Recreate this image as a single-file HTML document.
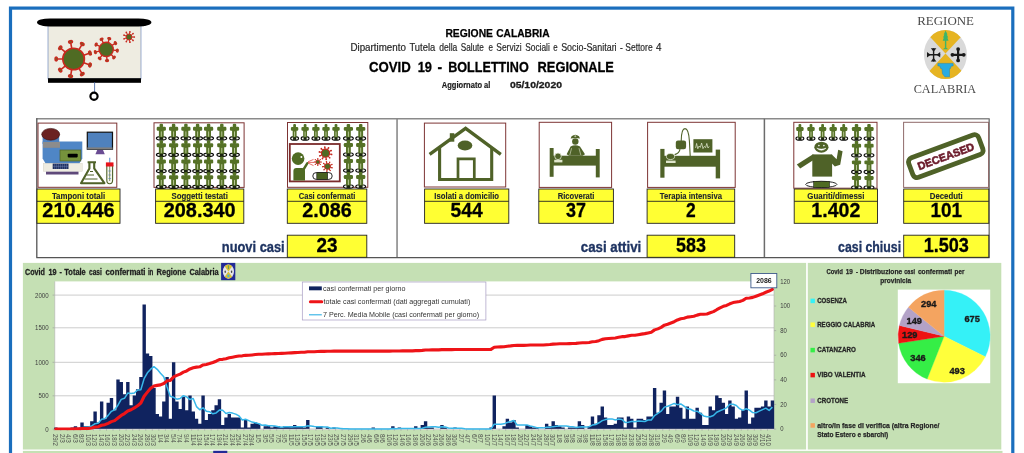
<!DOCTYPE html>
<html lang="it">
<head>
<meta charset="utf-8">
<title>COVID 19 - Bollettino Regionale - Regione Calabria</title>
<style>
html,body{margin:0;padding:0;background:#fff;}
body{width:1024px;height:453px;overflow:hidden;font-family:"Liberation Sans",sans-serif;}
svg{display:block;}
</style>
</head>
<body>
<svg width="1024" height="453" viewBox="0 0 1024 453">
<defs><filter id="soft" x="0" y="0" width="1024" height="453" filterUnits="userSpaceOnUse" color-interpolation-filters="sRGB"><feGaussianBlur stdDeviation="0.45"/></filter></defs>
<g filter="url(#soft)">
<rect x="0" y="0" width="1024" height="453" fill="#fff"/>
<rect x="10.5" y="8.1" width="1002.3" height="500" fill="none" stroke="#1a6ebd" stroke-width="3.2"/>
<g id="projector">
<rect x="48" y="25" width="93" height="54" fill="#eeece1" stroke="#5b7bb5" stroke-width="0.6"/>
<rect x="37" y="18.4" width="114.4" height="8.1" rx="13" ry="4.05" fill="#000"/>
<rect x="48" y="78.2" width="93" height="4.6" fill="#000"/>
<line x1="94.6" y1="82" x2="94.6" y2="92" stroke="#3a5a9a" stroke-width="0.8"/>
<circle cx="94" cy="96.2" r="3.6" fill="#fff" stroke="#000" stroke-width="2.2"/>
<line x1="83.75" y1="62.70" x2="89.95" y2="64.97" stroke="#c9291f" stroke-width="1.6"/>
<ellipse cx="89.95" cy="64.97" rx="2.00" ry="1.24" transform="rotate(110.1 89.95 64.97)" fill="#6b6a25" stroke="#c9291f" stroke-width="1.44"/>
<line x1="78.99" y1="68.36" x2="82.29" y2="74.08" stroke="#c9291f" stroke-width="1.6"/>
<ellipse cx="82.29" cy="74.08" rx="2.00" ry="1.24" transform="rotate(150.1 82.29 74.08)" fill="#6b6a25" stroke="#c9291f" stroke-width="1.44"/>
<line x1="71.71" y1="69.63" x2="70.56" y2="76.13" stroke="#c9291f" stroke-width="1.6"/>
<ellipse cx="70.56" cy="76.13" rx="2.00" ry="1.24" transform="rotate(190.1 70.56 76.13)" fill="#6b6a25" stroke="#c9291f" stroke-width="1.44"/>
<line x1="65.32" y1="65.93" x2="60.26" y2="70.17" stroke="#c9291f" stroke-width="1.6"/>
<ellipse cx="60.26" cy="70.17" rx="2.00" ry="1.24" transform="rotate(230.1 60.26 70.17)" fill="#6b6a25" stroke="#c9291f" stroke-width="1.44"/>
<line x1="62.80" y1="58.99" x2="56.20" y2="58.98" stroke="#c9291f" stroke-width="1.6"/>
<ellipse cx="56.20" cy="58.98" rx="2.00" ry="1.24" transform="rotate(270.1 56.20 58.98)" fill="#6b6a25" stroke="#c9291f" stroke-width="1.44"/>
<line x1="65.33" y1="52.05" x2="60.28" y2="47.80" stroke="#c9291f" stroke-width="1.6"/>
<ellipse cx="60.28" cy="47.80" rx="2.00" ry="1.24" transform="rotate(310.1 60.28 47.80)" fill="#6b6a25" stroke="#c9291f" stroke-width="1.44"/>
<line x1="71.73" y1="48.36" x2="70.59" y2="41.86" stroke="#c9291f" stroke-width="1.6"/>
<ellipse cx="70.59" cy="41.86" rx="2.00" ry="1.24" transform="rotate(350.1 70.59 41.86)" fill="#6b6a25" stroke="#c9291f" stroke-width="1.44"/>
<line x1="79.01" y1="49.65" x2="82.31" y2="43.94" stroke="#c9291f" stroke-width="1.6"/>
<ellipse cx="82.31" cy="43.94" rx="2.00" ry="1.24" transform="rotate(390.1 82.31 43.94)" fill="#6b6a25" stroke="#c9291f" stroke-width="1.44"/>
<line x1="83.75" y1="55.32" x2="89.96" y2="53.06" stroke="#c9291f" stroke-width="1.6"/>
<ellipse cx="89.96" cy="53.06" rx="2.00" ry="1.24" transform="rotate(430.1 89.96 53.06)" fill="#6b6a25" stroke="#c9291f" stroke-width="1.44"/>
<circle cx="73.6" cy="59" r="10.8" fill="#4f6b23" stroke="#c9291f" stroke-width="1.6"/>
<line x1="113.26" y1="50.11" x2="117.34" y2="50.52" stroke="#c9291f" stroke-width="1.4"/>
<ellipse cx="117.34" cy="50.52" rx="1.50" ry="0.93" transform="rotate(95.7 117.34 50.52)" fill="#6b6a25" stroke="#c9291f" stroke-width="1.26"/>
<line x1="111.16" y1="54.48" x2="114.02" y2="57.42" stroke="#c9291f" stroke-width="1.4"/>
<ellipse cx="114.02" cy="57.42" rx="1.50" ry="0.93" transform="rotate(135.7 114.02 57.42)" fill="#6b6a25" stroke="#c9291f" stroke-width="1.26"/>
<line x1="106.73" y1="56.48" x2="107.03" y2="60.57" stroke="#c9291f" stroke-width="1.4"/>
<ellipse cx="107.03" cy="60.57" rx="1.50" ry="0.93" transform="rotate(175.7 107.03 60.57)" fill="#6b6a25" stroke="#c9291f" stroke-width="1.26"/>
<line x1="102.05" y1="55.16" x2="99.66" y2="58.49" stroke="#c9291f" stroke-width="1.4"/>
<ellipse cx="99.66" cy="58.49" rx="1.50" ry="0.93" transform="rotate(215.7 99.66 58.49)" fill="#6b6a25" stroke="#c9291f" stroke-width="1.26"/>
<line x1="99.32" y1="51.15" x2="95.35" y2="52.16" stroke="#c9291f" stroke-width="1.4"/>
<ellipse cx="95.35" cy="52.16" rx="1.50" ry="0.93" transform="rotate(255.7 95.35 52.16)" fill="#6b6a25" stroke="#c9291f" stroke-width="1.26"/>
<line x1="99.80" y1="46.32" x2="96.11" y2="44.54" stroke="#c9291f" stroke-width="1.4"/>
<ellipse cx="96.11" cy="44.54" rx="1.50" ry="0.93" transform="rotate(295.7 96.11 44.54)" fill="#6b6a25" stroke="#c9291f" stroke-width="1.26"/>
<line x1="103.28" y1="42.93" x2="101.60" y2="39.19" stroke="#c9291f" stroke-width="1.4"/>
<ellipse cx="101.60" cy="39.19" rx="1.50" ry="0.93" transform="rotate(335.7 101.60 39.19)" fill="#6b6a25" stroke="#c9291f" stroke-width="1.26"/>
<line x1="108.12" y1="42.57" x2="109.24" y2="38.62" stroke="#c9291f" stroke-width="1.4"/>
<ellipse cx="109.24" cy="38.62" rx="1.50" ry="0.93" transform="rotate(375.7 109.24 38.62)" fill="#6b6a25" stroke="#c9291f" stroke-width="1.26"/>
<line x1="112.07" y1="45.40" x2="115.46" y2="43.09" stroke="#c9291f" stroke-width="1.4"/>
<ellipse cx="115.46" cy="43.09" rx="1.50" ry="0.93" transform="rotate(415.7 115.46 43.09)" fill="#6b6a25" stroke="#c9291f" stroke-width="1.26"/>
<circle cx="106.2" cy="49.4" r="7.1" fill="#4f6b23" stroke="#c9291f" stroke-width="1.4"/>
<line x1="132.00" y1="37.00" x2="134.30" y2="37.00" stroke="#c9291f" stroke-width="1.0"/>
<circle cx="134.30" cy="37.00" r="0.85" fill="#c9291f"/>
<line x1="131.30" y1="38.93" x2="133.06" y2="40.41" stroke="#c9291f" stroke-width="1.0"/>
<circle cx="133.06" cy="40.41" r="0.85" fill="#c9291f"/>
<line x1="129.52" y1="39.95" x2="129.92" y2="42.22" stroke="#c9291f" stroke-width="1.0"/>
<circle cx="129.92" cy="42.22" r="0.85" fill="#c9291f"/>
<line x1="127.50" y1="39.60" x2="126.35" y2="41.59" stroke="#c9291f" stroke-width="1.0"/>
<circle cx="126.35" cy="41.59" r="0.85" fill="#c9291f"/>
<line x1="126.18" y1="38.03" x2="124.02" y2="38.81" stroke="#c9291f" stroke-width="1.0"/>
<circle cx="124.02" cy="38.81" r="0.85" fill="#c9291f"/>
<line x1="126.18" y1="35.97" x2="124.02" y2="35.19" stroke="#c9291f" stroke-width="1.0"/>
<circle cx="124.02" cy="35.19" r="0.85" fill="#c9291f"/>
<line x1="127.50" y1="34.40" x2="126.35" y2="32.41" stroke="#c9291f" stroke-width="1.0"/>
<circle cx="126.35" cy="32.41" r="0.85" fill="#c9291f"/>
<line x1="129.52" y1="34.05" x2="129.92" y2="31.78" stroke="#c9291f" stroke-width="1.0"/>
<circle cx="129.92" cy="31.78" r="0.85" fill="#c9291f"/>
<line x1="131.30" y1="35.07" x2="133.06" y2="33.59" stroke="#c9291f" stroke-width="1.0"/>
<circle cx="133.06" cy="33.59" r="0.85" fill="#c9291f"/>
<circle cx="129" cy="37" r="3.0" fill="#4f6b23" stroke="#c9291f" stroke-width="1.0"/>
</g>
<text y="37.00" font-family="'Liberation Sans', sans-serif" font-size="11.5" font-weight="bold" fill="#000" stroke="#000" stroke-width="0.25" stroke-linejoin="round"><tspan x="445.40" textLength="47.60" lengthAdjust="spacingAndGlyphs">REGIONE</tspan> <tspan x="496.20" textLength="53.40" lengthAdjust="spacingAndGlyphs">CALABRIA</tspan></text>
<text y="50.60" font-family="'Liberation Sans', sans-serif" font-size="10.3" fill="#262626" stroke="#262626" stroke-width="0.18" stroke-linejoin="round"><tspan x="350.40" textLength="55.50" lengthAdjust="spacingAndGlyphs">Dipartimento</tspan> <tspan x="409.50" textLength="25.70" lengthAdjust="spacingAndGlyphs">Tutela</tspan> <tspan x="439.30" textLength="18.00" lengthAdjust="spacingAndGlyphs">della</tspan> <tspan x="460.70" textLength="23.20" lengthAdjust="spacingAndGlyphs">Salute</tspan> <tspan x="488.40" textLength="4.50" lengthAdjust="spacingAndGlyphs">e</tspan> <tspan x="496.30" textLength="25.30" lengthAdjust="spacingAndGlyphs">Servizi</tspan> <tspan x="525.20" textLength="24.60" lengthAdjust="spacingAndGlyphs">Sociali</tspan> <tspan x="553.30" textLength="4.40" lengthAdjust="spacingAndGlyphs">e</tspan> <tspan x="561.20" textLength="55.40" lengthAdjust="spacingAndGlyphs">Socio-Sanitari</tspan> <tspan x="620.10" textLength="2.80" lengthAdjust="spacingAndGlyphs">-</tspan> <tspan x="625.30" textLength="27.30" lengthAdjust="spacingAndGlyphs">Settore</tspan> <tspan x="656.10" textLength="5.50" lengthAdjust="spacingAndGlyphs">4</tspan></text>
<text y="71.70" font-family="'Liberation Sans', sans-serif" font-size="14.8" font-weight="bold" fill="#000" stroke="#000" stroke-width="0.3" stroke-linejoin="round"><tspan x="368.90" textLength="41.80" lengthAdjust="spacingAndGlyphs">COVID</tspan> <tspan x="417.70" textLength="14.30" lengthAdjust="spacingAndGlyphs">19</tspan> <tspan x="437.60" textLength="4.60" lengthAdjust="spacingAndGlyphs">-</tspan> <tspan x="448.20" textLength="80.50" lengthAdjust="spacingAndGlyphs">BOLLETTINO</tspan> <tspan x="537.60" textLength="76.30" lengthAdjust="spacingAndGlyphs">REGIONALE</tspan></text>
<text x="441.80" y="87.80" font-family="'Liberation Sans', sans-serif" font-size="8.5" font-weight="bold" textLength="48.60" lengthAdjust="spacingAndGlyphs" fill="#1c1c1c" stroke="#1c1c1c" stroke-width="0.2" stroke-linejoin="round">Aggiornato al</text>
<text x="509.90" y="87.50" font-family="'Liberation Sans', sans-serif" font-size="9.3" font-weight="bold" textLength="52.10" lengthAdjust="spacingAndGlyphs" fill="#1c1c1c" stroke="#1c1c1c" stroke-width="0.3" stroke-linejoin="round">05/10/2020</text>
<text x="917.20" y="25.40" font-family="'Liberation Serif', serif" font-size="13.0" textLength="56.80" lengthAdjust="spacingAndGlyphs" fill="#4a4a4a">REGIONE</text>
<text x="913.70" y="93.10" font-family="'Liberation Serif', serif" font-size="13.0" textLength="62.50" lengthAdjust="spacingAndGlyphs" fill="#4a4a4a">CALABRIA</text>
<g id="logo">
<clipPath id="logoclip"><ellipse cx="945.4" cy="54.5" rx="21.5" ry="24.5"/></clipPath>
<g clip-path="url(#logoclip)">
<rect x="920" y="28" width="50" height="54" fill="#d9d9d9"/>
<polygon points="945.5,53.6 919,25 972,25" fill="#e6b422"/>
<polygon points="945.5,53.6 919,82.2 972,82.2" fill="#e6b422"/>
</g>
<path d="M945.6,30.4 l1.9,4 l-0.7,0 l1.4,3 l-0.9,0 l1.2,3.4 l-2.2,0 l0,7 l2,1.4 l-5.4,0 l2,-1.4 l0,-7 l-2.2,0 l1.2,-3.4 l-0.9,0 l1.4,-3 l-0.7,0 z" fill="#3db56a"/>
<path d="M937.9,63.4 h15.2 v2.6 h-1.8 l-0.9,2.6 h-0.9 v8.2 h-4.6 l-2.4,-3 l-0.6,-5.2 h-1.2 l-0.9,-2.6 h-1.9 z" fill="#29abe2" stroke="#1c86b8" stroke-width="0.5"/>
<path d="M927.0,54.8 h13.2 M933.6,48.199999999999996 v13.2" stroke="#1a1a1a" stroke-width="1.4" fill="none"/>
<polygon points="930.63,54.80 927.00,52.03 927.00,57.57" fill="#1a1a1a"/>
<polygon points="936.57,54.80 940.20,57.57 940.20,52.03" fill="#1a1a1a"/>
<polygon points="933.60,51.83 936.37,48.20 930.83,48.20" fill="#1a1a1a"/>
<polygon points="933.60,57.77 930.83,61.40 936.37,61.40" fill="#1a1a1a"/>
<path d="M951.5,54.8 h13.2 M958.1,48.199999999999996 v13.2" stroke="#1a1a1a" stroke-width="2.2" fill="none"/>
<circle cx="952.42" cy="54.80" r="1.87" fill="#1a1a1a"/>
<circle cx="963.78" cy="54.80" r="1.87" fill="#1a1a1a"/>
<circle cx="958.10" cy="49.12" r="1.87" fill="#1a1a1a"/>
<circle cx="958.10" cy="60.48" r="1.87" fill="#1a1a1a"/>
</g>
<g id="stats">
<path d="M36.2,118.8 H989.6" fill="none" stroke="#8a8a8a" stroke-width="1.5"/>
<line x1="397.05" y1="118.8" x2="397.05" y2="257.6" stroke="#8a8a8a" stroke-width="1.6"/>
<line x1="764.4" y1="118.8" x2="764.4" y2="257.6" stroke="#6c6c6c" stroke-width="1.5"/>
<line x1="989.2" y1="118.8" x2="989.2" y2="257.6" stroke="#808080" stroke-width="1.5"/>
<path d="M36.8,118.2 V257.65 H989.6" fill="none" stroke="#555" stroke-width="1.3" stroke-linejoin="round"/>
<rect x="38.00" y="123.10" width="78.80" height="64.20" fill="#fff" stroke="#7d3434" stroke-width="1"/>
<g id="lab">
<rect x="42.6" y="134" width="16.6" height="10" fill="#4f81bd"/>
<path d="M42.6,141.6 H82.3 V158.5 L79.3,163.4 H45.6 L42.6,158.5 Z" fill="#4f86c6"/>
<ellipse cx="50.7" cy="134.3" rx="9" ry="5.9" fill="#6b2222" stroke="#3a1010" stroke-width="0.6"/>
<rect x="43" y="142" width="17" height="5.8" fill="#8c8c8c"/>
<rect x="60" y="150" width="20.8" height="11" fill="#76923c" stroke="#4f6228" stroke-width="0.7"/>
<rect x="67.7" y="153.7" width="10" height="3.7" rx="0.8" fill="#000"/>
<rect x="43.2" y="163.4" width="39" height="7.8" fill="#eeece1" stroke="#cfcdbf" stroke-width="0.4"/>
<rect x="52.7" y="163.6" width="15.8" height="5.4" fill="#1f2f5e"/>
<line x1="54.68" y1="163.6" x2="54.68" y2="169" stroke="#8aa0d0" stroke-width="0.35"/>
<line x1="56.66" y1="163.6" x2="56.66" y2="169" stroke="#8aa0d0" stroke-width="0.35"/>
<line x1="58.64" y1="163.6" x2="58.64" y2="169" stroke="#8aa0d0" stroke-width="0.35"/>
<line x1="60.62" y1="163.6" x2="60.62" y2="169" stroke="#8aa0d0" stroke-width="0.35"/>
<line x1="62.60" y1="163.6" x2="62.60" y2="169" stroke="#8aa0d0" stroke-width="0.35"/>
<line x1="64.58" y1="163.6" x2="64.58" y2="169" stroke="#8aa0d0" stroke-width="0.35"/>
<line x1="66.56" y1="163.6" x2="66.56" y2="169" stroke="#8aa0d0" stroke-width="0.35"/>
<line x1="52.7" y1="166.3" x2="68.5" y2="166.3" stroke="#8aa0d0" stroke-width="0.35"/>
<rect x="46" y="171.7" width="32.5" height="2.8" fill="#5f497a"/>
<rect x="87.3" y="132.2" width="25.2" height="17" fill="#4f81bd" stroke="#111" stroke-width="1.2"/>
<rect x="87.3" y="147.4" width="25.2" height="1.9" fill="#7f7f7f"/>
<polygon points="97.2,150 103,150 104.8,154.2 95.4,154.2" fill="#6a4c93"/>
<path d="M87.6,162.2 H96 M89.4,162.2 V168.4 L81,183.2 H104.4 L94.2,168.4 V162.2" fill="none" stroke="#4f6228" stroke-width="2.1" stroke-linejoin="round"/>
<path d="M86.5,175 H94 M84.5,179 H97.5 M90,171.5 h3" fill="none" stroke="#4f6228" stroke-width="1"/>
<line x1="109.7" y1="157.8" x2="109.7" y2="163" stroke="#6f9fd8" stroke-width="1.2"/>
<path d="M106.8,165 V180 a2.9,3.8 0 0 0 5.8,0 V165" fill="#f7f7f0" stroke="#4f6228" stroke-width="1.1"/>
<line x1="109.7" y1="166" x2="109.7" y2="181" stroke="#4f6228" stroke-width="0.7"/>
<path d="M108.3,171 h2.8 M108.3,175 h2.8 M108.3,178.5 h2.8" stroke="#4f81bd" stroke-width="0.6"/>
<rect x="105.9" y="162.4" width="7.6" height="4.1" fill="#e8141c"/>
</g>
<rect x="37.00" y="189.00" width="83.00" height="34.30" fill="#ffff33" stroke="#222" stroke-width="0.9"/>
<line x1="37.00" y1="201.3" x2="120.00" y2="201.3" stroke="#222" stroke-width="0.9"/>
<text x="51.90" y="198.70" font-family="'Liberation Sans', sans-serif" font-size="9.3" font-weight="bold" textLength="53.20" lengthAdjust="spacingAndGlyphs" fill="#20262c" stroke="#20262c" stroke-width="0.12" stroke-linejoin="round">Tamponi totali</text>
<text x="42.35" y="217.20" font-family="'Liberation Sans', sans-serif" font-size="20.6" font-weight="bold" textLength="72.30" lengthAdjust="spacingAndGlyphs" fill="#000" stroke="#000" stroke-width="0.3" stroke-linejoin="round">210.446</text>
<rect x="154.00" y="122.80" width="90.10" height="64.60" fill="#fff" stroke="#7d3434" stroke-width="1"/>
<ellipse cx="161.30" cy="138.30" rx="4.90" ry="1.75" fill="#f4f5ee" stroke="#0a0a0a" stroke-width="1.15"/>
<rect x="159.40" y="136.70" width="3.80" height="3.1" fill="#1c2610"/>
<rect x="159.55" y="123.80" width="3.50" height="3.6" rx="1.1" fill="#557126"/>
<rect x="156.70" y="126.80" width="9.20" height="3.9" rx="1.2" fill="#557126"/>
<rect x="158.90" y="129.80" width="4.80" height="7.4" fill="#557126"/>
<line x1="161.30" y1="131.40" x2="161.30" y2="136.70" stroke="#c3d1a2" stroke-width="0.9"/>
<ellipse cx="173.60" cy="138.30" rx="4.90" ry="1.75" fill="#f4f5ee" stroke="#0a0a0a" stroke-width="1.15"/>
<rect x="171.70" y="136.70" width="3.80" height="3.1" fill="#1c2610"/>
<rect x="171.85" y="123.80" width="3.50" height="3.6" rx="1.1" fill="#557126"/>
<rect x="169.00" y="126.80" width="9.20" height="3.9" rx="1.2" fill="#557126"/>
<rect x="171.20" y="129.80" width="4.80" height="7.4" fill="#557126"/>
<line x1="173.60" y1="131.40" x2="173.60" y2="136.70" stroke="#c3d1a2" stroke-width="0.9"/>
<ellipse cx="185.90" cy="138.30" rx="4.90" ry="1.75" fill="#f4f5ee" stroke="#0a0a0a" stroke-width="1.15"/>
<rect x="184.00" y="136.70" width="3.80" height="3.1" fill="#1c2610"/>
<rect x="184.15" y="123.80" width="3.50" height="3.6" rx="1.1" fill="#557126"/>
<rect x="181.30" y="126.80" width="9.20" height="3.9" rx="1.2" fill="#557126"/>
<rect x="183.50" y="129.80" width="4.80" height="7.4" fill="#557126"/>
<line x1="185.90" y1="131.40" x2="185.90" y2="136.70" stroke="#c3d1a2" stroke-width="0.9"/>
<ellipse cx="197.60" cy="138.30" rx="4.90" ry="1.75" fill="#f4f5ee" stroke="#0a0a0a" stroke-width="1.15"/>
<rect x="195.70" y="136.70" width="3.80" height="3.1" fill="#1c2610"/>
<rect x="195.85" y="123.80" width="3.50" height="3.6" rx="1.1" fill="#557126"/>
<rect x="193.00" y="126.80" width="9.20" height="3.9" rx="1.2" fill="#557126"/>
<rect x="195.20" y="129.80" width="4.80" height="7.4" fill="#557126"/>
<line x1="197.60" y1="131.40" x2="197.60" y2="136.70" stroke="#c3d1a2" stroke-width="0.9"/>
<ellipse cx="208.60" cy="138.30" rx="4.90" ry="1.75" fill="#f4f5ee" stroke="#0a0a0a" stroke-width="1.15"/>
<rect x="206.70" y="136.70" width="3.80" height="3.1" fill="#1c2610"/>
<rect x="206.85" y="123.80" width="3.50" height="3.6" rx="1.1" fill="#557126"/>
<rect x="204.00" y="126.80" width="9.20" height="3.9" rx="1.2" fill="#557126"/>
<rect x="206.20" y="129.80" width="4.80" height="7.4" fill="#557126"/>
<line x1="208.60" y1="131.40" x2="208.60" y2="136.70" stroke="#c3d1a2" stroke-width="0.9"/>
<ellipse cx="221.80" cy="138.30" rx="4.90" ry="1.75" fill="#f4f5ee" stroke="#0a0a0a" stroke-width="1.15"/>
<rect x="219.90" y="136.70" width="3.80" height="3.1" fill="#1c2610"/>
<rect x="220.05" y="123.80" width="3.50" height="3.6" rx="1.1" fill="#557126"/>
<rect x="217.20" y="126.80" width="9.20" height="3.9" rx="1.2" fill="#557126"/>
<rect x="219.40" y="129.80" width="4.80" height="7.4" fill="#557126"/>
<line x1="221.80" y1="131.40" x2="221.80" y2="136.70" stroke="#c3d1a2" stroke-width="0.9"/>
<ellipse cx="234.50" cy="138.30" rx="4.90" ry="1.75" fill="#f4f5ee" stroke="#0a0a0a" stroke-width="1.15"/>
<rect x="232.60" y="136.70" width="3.80" height="3.1" fill="#1c2610"/>
<rect x="232.75" y="123.80" width="3.50" height="3.6" rx="1.1" fill="#557126"/>
<rect x="229.90" y="126.80" width="9.20" height="3.9" rx="1.2" fill="#557126"/>
<rect x="232.10" y="129.80" width="4.80" height="7.4" fill="#557126"/>
<line x1="234.50" y1="131.40" x2="234.50" y2="136.70" stroke="#c3d1a2" stroke-width="0.9"/>
<ellipse cx="161.30" cy="154.80" rx="4.90" ry="1.75" fill="#f4f5ee" stroke="#0a0a0a" stroke-width="1.15"/>
<rect x="159.40" y="153.20" width="3.80" height="3.1" fill="#1c2610"/>
<rect x="159.55" y="140.30" width="3.50" height="3.6" rx="1.1" fill="#557126"/>
<rect x="156.70" y="143.30" width="9.20" height="3.9" rx="1.2" fill="#557126"/>
<rect x="158.90" y="146.30" width="4.80" height="7.4" fill="#557126"/>
<line x1="161.30" y1="147.90" x2="161.30" y2="153.20" stroke="#c3d1a2" stroke-width="0.9"/>
<ellipse cx="173.60" cy="154.80" rx="4.90" ry="1.75" fill="#f4f5ee" stroke="#0a0a0a" stroke-width="1.15"/>
<rect x="171.70" y="153.20" width="3.80" height="3.1" fill="#1c2610"/>
<rect x="171.85" y="140.30" width="3.50" height="3.6" rx="1.1" fill="#557126"/>
<rect x="169.00" y="143.30" width="9.20" height="3.9" rx="1.2" fill="#557126"/>
<rect x="171.20" y="146.30" width="4.80" height="7.4" fill="#557126"/>
<line x1="173.60" y1="147.90" x2="173.60" y2="153.20" stroke="#c3d1a2" stroke-width="0.9"/>
<ellipse cx="185.90" cy="154.80" rx="4.90" ry="1.75" fill="#f4f5ee" stroke="#0a0a0a" stroke-width="1.15"/>
<rect x="184.00" y="153.20" width="3.80" height="3.1" fill="#1c2610"/>
<rect x="184.15" y="140.30" width="3.50" height="3.6" rx="1.1" fill="#557126"/>
<rect x="181.30" y="143.30" width="9.20" height="3.9" rx="1.2" fill="#557126"/>
<rect x="183.50" y="146.30" width="4.80" height="7.4" fill="#557126"/>
<line x1="185.90" y1="147.90" x2="185.90" y2="153.20" stroke="#c3d1a2" stroke-width="0.9"/>
<ellipse cx="197.60" cy="154.80" rx="4.90" ry="1.75" fill="#f4f5ee" stroke="#0a0a0a" stroke-width="1.15"/>
<rect x="195.70" y="153.20" width="3.80" height="3.1" fill="#1c2610"/>
<rect x="195.85" y="140.30" width="3.50" height="3.6" rx="1.1" fill="#557126"/>
<rect x="193.00" y="143.30" width="9.20" height="3.9" rx="1.2" fill="#557126"/>
<rect x="195.20" y="146.30" width="4.80" height="7.4" fill="#557126"/>
<line x1="197.60" y1="147.90" x2="197.60" y2="153.20" stroke="#c3d1a2" stroke-width="0.9"/>
<ellipse cx="208.60" cy="154.80" rx="4.90" ry="1.75" fill="#f4f5ee" stroke="#0a0a0a" stroke-width="1.15"/>
<rect x="206.70" y="153.20" width="3.80" height="3.1" fill="#1c2610"/>
<rect x="206.85" y="140.30" width="3.50" height="3.6" rx="1.1" fill="#557126"/>
<rect x="204.00" y="143.30" width="9.20" height="3.9" rx="1.2" fill="#557126"/>
<rect x="206.20" y="146.30" width="4.80" height="7.4" fill="#557126"/>
<line x1="208.60" y1="147.90" x2="208.60" y2="153.20" stroke="#c3d1a2" stroke-width="0.9"/>
<ellipse cx="221.80" cy="154.80" rx="4.90" ry="1.75" fill="#f4f5ee" stroke="#0a0a0a" stroke-width="1.15"/>
<rect x="219.90" y="153.20" width="3.80" height="3.1" fill="#1c2610"/>
<rect x="220.05" y="140.30" width="3.50" height="3.6" rx="1.1" fill="#557126"/>
<rect x="217.20" y="143.30" width="9.20" height="3.9" rx="1.2" fill="#557126"/>
<rect x="219.40" y="146.30" width="4.80" height="7.4" fill="#557126"/>
<line x1="221.80" y1="147.90" x2="221.80" y2="153.20" stroke="#c3d1a2" stroke-width="0.9"/>
<ellipse cx="234.50" cy="154.80" rx="4.90" ry="1.75" fill="#f4f5ee" stroke="#0a0a0a" stroke-width="1.15"/>
<rect x="232.60" y="153.20" width="3.80" height="3.1" fill="#1c2610"/>
<rect x="232.75" y="140.30" width="3.50" height="3.6" rx="1.1" fill="#557126"/>
<rect x="229.90" y="143.30" width="9.20" height="3.9" rx="1.2" fill="#557126"/>
<rect x="232.10" y="146.30" width="4.80" height="7.4" fill="#557126"/>
<line x1="234.50" y1="147.90" x2="234.50" y2="153.20" stroke="#c3d1a2" stroke-width="0.9"/>
<ellipse cx="161.30" cy="171.10" rx="4.90" ry="1.75" fill="#f4f5ee" stroke="#0a0a0a" stroke-width="1.15"/>
<rect x="159.40" y="169.50" width="3.80" height="3.1" fill="#1c2610"/>
<rect x="159.55" y="156.60" width="3.50" height="3.6" rx="1.1" fill="#557126"/>
<rect x="156.70" y="159.60" width="9.20" height="3.9" rx="1.2" fill="#557126"/>
<rect x="158.90" y="162.60" width="4.80" height="7.4" fill="#557126"/>
<line x1="161.30" y1="164.20" x2="161.30" y2="169.50" stroke="#c3d1a2" stroke-width="0.9"/>
<ellipse cx="173.60" cy="171.10" rx="4.90" ry="1.75" fill="#f4f5ee" stroke="#0a0a0a" stroke-width="1.15"/>
<rect x="171.70" y="169.50" width="3.80" height="3.1" fill="#1c2610"/>
<rect x="171.85" y="156.60" width="3.50" height="3.6" rx="1.1" fill="#557126"/>
<rect x="169.00" y="159.60" width="9.20" height="3.9" rx="1.2" fill="#557126"/>
<rect x="171.20" y="162.60" width="4.80" height="7.4" fill="#557126"/>
<line x1="173.60" y1="164.20" x2="173.60" y2="169.50" stroke="#c3d1a2" stroke-width="0.9"/>
<ellipse cx="185.90" cy="171.10" rx="4.90" ry="1.75" fill="#f4f5ee" stroke="#0a0a0a" stroke-width="1.15"/>
<rect x="184.00" y="169.50" width="3.80" height="3.1" fill="#1c2610"/>
<rect x="184.15" y="156.60" width="3.50" height="3.6" rx="1.1" fill="#557126"/>
<rect x="181.30" y="159.60" width="9.20" height="3.9" rx="1.2" fill="#557126"/>
<rect x="183.50" y="162.60" width="4.80" height="7.4" fill="#557126"/>
<line x1="185.90" y1="164.20" x2="185.90" y2="169.50" stroke="#c3d1a2" stroke-width="0.9"/>
<ellipse cx="197.60" cy="171.10" rx="4.90" ry="1.75" fill="#f4f5ee" stroke="#0a0a0a" stroke-width="1.15"/>
<rect x="195.70" y="169.50" width="3.80" height="3.1" fill="#1c2610"/>
<rect x="195.85" y="156.60" width="3.50" height="3.6" rx="1.1" fill="#557126"/>
<rect x="193.00" y="159.60" width="9.20" height="3.9" rx="1.2" fill="#557126"/>
<rect x="195.20" y="162.60" width="4.80" height="7.4" fill="#557126"/>
<line x1="197.60" y1="164.20" x2="197.60" y2="169.50" stroke="#c3d1a2" stroke-width="0.9"/>
<ellipse cx="208.60" cy="171.10" rx="4.90" ry="1.75" fill="#f4f5ee" stroke="#0a0a0a" stroke-width="1.15"/>
<rect x="206.70" y="169.50" width="3.80" height="3.1" fill="#1c2610"/>
<rect x="206.85" y="156.60" width="3.50" height="3.6" rx="1.1" fill="#557126"/>
<rect x="204.00" y="159.60" width="9.20" height="3.9" rx="1.2" fill="#557126"/>
<rect x="206.20" y="162.60" width="4.80" height="7.4" fill="#557126"/>
<line x1="208.60" y1="164.20" x2="208.60" y2="169.50" stroke="#c3d1a2" stroke-width="0.9"/>
<ellipse cx="221.80" cy="171.10" rx="4.90" ry="1.75" fill="#f4f5ee" stroke="#0a0a0a" stroke-width="1.15"/>
<rect x="219.90" y="169.50" width="3.80" height="3.1" fill="#1c2610"/>
<rect x="220.05" y="156.60" width="3.50" height="3.6" rx="1.1" fill="#557126"/>
<rect x="217.20" y="159.60" width="9.20" height="3.9" rx="1.2" fill="#557126"/>
<rect x="219.40" y="162.60" width="4.80" height="7.4" fill="#557126"/>
<line x1="221.80" y1="164.20" x2="221.80" y2="169.50" stroke="#c3d1a2" stroke-width="0.9"/>
<ellipse cx="234.50" cy="171.10" rx="4.90" ry="1.75" fill="#f4f5ee" stroke="#0a0a0a" stroke-width="1.15"/>
<rect x="232.60" y="169.50" width="3.80" height="3.1" fill="#1c2610"/>
<rect x="232.75" y="156.60" width="3.50" height="3.6" rx="1.1" fill="#557126"/>
<rect x="229.90" y="159.60" width="9.20" height="3.9" rx="1.2" fill="#557126"/>
<rect x="232.10" y="162.60" width="4.80" height="7.4" fill="#557126"/>
<line x1="234.50" y1="164.20" x2="234.50" y2="169.50" stroke="#c3d1a2" stroke-width="0.9"/>
<ellipse cx="161.30" cy="186.80" rx="4.90" ry="1.75" fill="#f4f5ee" stroke="#0a0a0a" stroke-width="1.15"/>
<rect x="159.40" y="185.20" width="3.80" height="3.1" fill="#1c2610"/>
<rect x="159.55" y="172.30" width="3.50" height="3.6" rx="1.1" fill="#557126"/>
<rect x="156.70" y="175.30" width="9.20" height="3.9" rx="1.2" fill="#557126"/>
<rect x="158.90" y="178.30" width="4.80" height="7.4" fill="#557126"/>
<line x1="161.30" y1="179.90" x2="161.30" y2="185.20" stroke="#c3d1a2" stroke-width="0.9"/>
<ellipse cx="173.60" cy="186.80" rx="4.90" ry="1.75" fill="#f4f5ee" stroke="#0a0a0a" stroke-width="1.15"/>
<rect x="171.70" y="185.20" width="3.80" height="3.1" fill="#1c2610"/>
<rect x="171.85" y="172.30" width="3.50" height="3.6" rx="1.1" fill="#557126"/>
<rect x="169.00" y="175.30" width="9.20" height="3.9" rx="1.2" fill="#557126"/>
<rect x="171.20" y="178.30" width="4.80" height="7.4" fill="#557126"/>
<line x1="173.60" y1="179.90" x2="173.60" y2="185.20" stroke="#c3d1a2" stroke-width="0.9"/>
<ellipse cx="185.90" cy="186.80" rx="4.90" ry="1.75" fill="#f4f5ee" stroke="#0a0a0a" stroke-width="1.15"/>
<rect x="184.00" y="185.20" width="3.80" height="3.1" fill="#1c2610"/>
<rect x="184.15" y="172.30" width="3.50" height="3.6" rx="1.1" fill="#557126"/>
<rect x="181.30" y="175.30" width="9.20" height="3.9" rx="1.2" fill="#557126"/>
<rect x="183.50" y="178.30" width="4.80" height="7.4" fill="#557126"/>
<line x1="185.90" y1="179.90" x2="185.90" y2="185.20" stroke="#c3d1a2" stroke-width="0.9"/>
<ellipse cx="197.60" cy="186.80" rx="4.90" ry="1.75" fill="#f4f5ee" stroke="#0a0a0a" stroke-width="1.15"/>
<rect x="195.70" y="185.20" width="3.80" height="3.1" fill="#1c2610"/>
<rect x="195.85" y="172.30" width="3.50" height="3.6" rx="1.1" fill="#557126"/>
<rect x="193.00" y="175.30" width="9.20" height="3.9" rx="1.2" fill="#557126"/>
<rect x="195.20" y="178.30" width="4.80" height="7.4" fill="#557126"/>
<line x1="197.60" y1="179.90" x2="197.60" y2="185.20" stroke="#c3d1a2" stroke-width="0.9"/>
<ellipse cx="208.60" cy="186.80" rx="4.90" ry="1.75" fill="#f4f5ee" stroke="#0a0a0a" stroke-width="1.15"/>
<rect x="206.70" y="185.20" width="3.80" height="3.1" fill="#1c2610"/>
<rect x="206.85" y="172.30" width="3.50" height="3.6" rx="1.1" fill="#557126"/>
<rect x="204.00" y="175.30" width="9.20" height="3.9" rx="1.2" fill="#557126"/>
<rect x="206.20" y="178.30" width="4.80" height="7.4" fill="#557126"/>
<line x1="208.60" y1="179.90" x2="208.60" y2="185.20" stroke="#c3d1a2" stroke-width="0.9"/>
<ellipse cx="221.80" cy="186.80" rx="4.90" ry="1.75" fill="#f4f5ee" stroke="#0a0a0a" stroke-width="1.15"/>
<rect x="219.90" y="185.20" width="3.80" height="3.1" fill="#1c2610"/>
<rect x="220.05" y="172.30" width="3.50" height="3.6" rx="1.1" fill="#557126"/>
<rect x="217.20" y="175.30" width="9.20" height="3.9" rx="1.2" fill="#557126"/>
<rect x="219.40" y="178.30" width="4.80" height="7.4" fill="#557126"/>
<line x1="221.80" y1="179.90" x2="221.80" y2="185.20" stroke="#c3d1a2" stroke-width="0.9"/>
<ellipse cx="234.50" cy="186.80" rx="4.90" ry="1.75" fill="#f4f5ee" stroke="#0a0a0a" stroke-width="1.15"/>
<rect x="232.60" y="185.20" width="3.80" height="3.1" fill="#1c2610"/>
<rect x="232.75" y="172.30" width="3.50" height="3.6" rx="1.1" fill="#557126"/>
<rect x="229.90" y="175.30" width="9.20" height="3.9" rx="1.2" fill="#557126"/>
<rect x="232.10" y="178.30" width="4.80" height="7.4" fill="#557126"/>
<line x1="234.50" y1="179.90" x2="234.50" y2="185.20" stroke="#c3d1a2" stroke-width="0.9"/>
<rect x="155.60" y="189.00" width="88.20" height="34.30" fill="#ffff33" stroke="#222" stroke-width="0.9"/>
<line x1="155.60" y1="201.3" x2="243.80" y2="201.3" stroke="#222" stroke-width="0.9"/>
<text x="171.50" y="198.70" font-family="'Liberation Sans', sans-serif" font-size="9.3" font-weight="bold" textLength="56.40" lengthAdjust="spacingAndGlyphs" fill="#20262c" stroke="#20262c" stroke-width="0.12" stroke-linejoin="round">Soggetti testati</text>
<text x="163.70" y="217.20" font-family="'Liberation Sans', sans-serif" font-size="20.6" font-weight="bold" textLength="72.00" lengthAdjust="spacingAndGlyphs" fill="#000" stroke="#000" stroke-width="0.3" stroke-linejoin="round">208.340</text>
<rect x="287.50" y="122.50" width="80.30" height="64.80" fill="#fff" stroke="#7d3434" stroke-width="1"/>
<ellipse cx="294.60" cy="138.40" rx="3.92" ry="1.75" fill="#f4f5ee" stroke="#0a0a0a" stroke-width="1.15"/>
<rect x="293.08" y="136.80" width="3.04" height="3.1" fill="#1c2610"/>
<rect x="293.20" y="123.90" width="2.80" height="3.6" rx="1.1" fill="#557126"/>
<rect x="290.92" y="126.90" width="7.36" height="3.9" rx="1.2" fill="#557126"/>
<rect x="292.68" y="129.90" width="3.84" height="7.4" fill="#557126"/>
<line x1="294.60" y1="131.50" x2="294.60" y2="136.80" stroke="#c3d1a2" stroke-width="0.9"/>
<ellipse cx="305.10" cy="138.40" rx="3.92" ry="1.75" fill="#f4f5ee" stroke="#0a0a0a" stroke-width="1.15"/>
<rect x="303.58" y="136.80" width="3.04" height="3.1" fill="#1c2610"/>
<rect x="303.70" y="123.90" width="2.80" height="3.6" rx="1.1" fill="#557126"/>
<rect x="301.42" y="126.90" width="7.36" height="3.9" rx="1.2" fill="#557126"/>
<rect x="303.18" y="129.90" width="3.84" height="7.4" fill="#557126"/>
<line x1="305.10" y1="131.50" x2="305.10" y2="136.80" stroke="#c3d1a2" stroke-width="0.9"/>
<ellipse cx="315.90" cy="138.40" rx="3.92" ry="1.75" fill="#f4f5ee" stroke="#0a0a0a" stroke-width="1.15"/>
<rect x="314.38" y="136.80" width="3.04" height="3.1" fill="#1c2610"/>
<rect x="314.50" y="123.90" width="2.80" height="3.6" rx="1.1" fill="#557126"/>
<rect x="312.22" y="126.90" width="7.36" height="3.9" rx="1.2" fill="#557126"/>
<rect x="313.98" y="129.90" width="3.84" height="7.4" fill="#557126"/>
<line x1="315.90" y1="131.50" x2="315.90" y2="136.80" stroke="#c3d1a2" stroke-width="0.9"/>
<ellipse cx="326.00" cy="138.40" rx="3.92" ry="1.75" fill="#f4f5ee" stroke="#0a0a0a" stroke-width="1.15"/>
<rect x="324.48" y="136.80" width="3.04" height="3.1" fill="#1c2610"/>
<rect x="324.60" y="123.90" width="2.80" height="3.6" rx="1.1" fill="#557126"/>
<rect x="322.32" y="126.90" width="7.36" height="3.9" rx="1.2" fill="#557126"/>
<rect x="324.08" y="129.90" width="3.84" height="7.4" fill="#557126"/>
<line x1="326.00" y1="131.50" x2="326.00" y2="136.80" stroke="#c3d1a2" stroke-width="0.9"/>
<ellipse cx="336.00" cy="138.40" rx="3.92" ry="1.75" fill="#f4f5ee" stroke="#0a0a0a" stroke-width="1.15"/>
<rect x="334.48" y="136.80" width="3.04" height="3.1" fill="#1c2610"/>
<rect x="334.60" y="123.90" width="2.80" height="3.6" rx="1.1" fill="#557126"/>
<rect x="332.32" y="126.90" width="7.36" height="3.9" rx="1.2" fill="#557126"/>
<rect x="334.08" y="129.90" width="3.84" height="7.4" fill="#557126"/>
<line x1="336.00" y1="131.50" x2="336.00" y2="136.80" stroke="#c3d1a2" stroke-width="0.9"/>
<ellipse cx="348.40" cy="138.40" rx="4.90" ry="1.75" fill="#f4f5ee" stroke="#0a0a0a" stroke-width="1.15"/>
<rect x="346.50" y="136.80" width="3.80" height="3.1" fill="#1c2610"/>
<rect x="346.65" y="123.90" width="3.50" height="3.6" rx="1.1" fill="#557126"/>
<rect x="343.80" y="126.90" width="9.20" height="3.9" rx="1.2" fill="#557126"/>
<rect x="346.00" y="129.90" width="4.80" height="7.4" fill="#557126"/>
<line x1="348.40" y1="131.50" x2="348.40" y2="136.80" stroke="#c3d1a2" stroke-width="0.9"/>
<ellipse cx="360.70" cy="138.40" rx="4.90" ry="1.75" fill="#f4f5ee" stroke="#0a0a0a" stroke-width="1.15"/>
<rect x="358.80" y="136.80" width="3.80" height="3.1" fill="#1c2610"/>
<rect x="358.95" y="123.90" width="3.50" height="3.6" rx="1.1" fill="#557126"/>
<rect x="356.10" y="126.90" width="9.20" height="3.9" rx="1.2" fill="#557126"/>
<rect x="358.30" y="129.90" width="4.80" height="7.4" fill="#557126"/>
<line x1="360.70" y1="131.50" x2="360.70" y2="136.80" stroke="#c3d1a2" stroke-width="0.9"/>
<ellipse cx="348.40" cy="154.50" rx="4.90" ry="1.75" fill="#f4f5ee" stroke="#0a0a0a" stroke-width="1.15"/>
<rect x="346.50" y="152.90" width="3.80" height="3.1" fill="#1c2610"/>
<rect x="346.65" y="140.00" width="3.50" height="3.6" rx="1.1" fill="#557126"/>
<rect x="343.80" y="143.00" width="9.20" height="3.9" rx="1.2" fill="#557126"/>
<rect x="346.00" y="146.00" width="4.80" height="7.4" fill="#557126"/>
<line x1="348.40" y1="147.60" x2="348.40" y2="152.90" stroke="#c3d1a2" stroke-width="0.9"/>
<ellipse cx="360.70" cy="154.50" rx="4.90" ry="1.75" fill="#f4f5ee" stroke="#0a0a0a" stroke-width="1.15"/>
<rect x="358.80" y="152.90" width="3.80" height="3.1" fill="#1c2610"/>
<rect x="358.95" y="140.00" width="3.50" height="3.6" rx="1.1" fill="#557126"/>
<rect x="356.10" y="143.00" width="9.20" height="3.9" rx="1.2" fill="#557126"/>
<rect x="358.30" y="146.00" width="4.80" height="7.4" fill="#557126"/>
<line x1="360.70" y1="147.60" x2="360.70" y2="152.90" stroke="#c3d1a2" stroke-width="0.9"/>
<ellipse cx="348.40" cy="170.50" rx="4.90" ry="1.75" fill="#f4f5ee" stroke="#0a0a0a" stroke-width="1.15"/>
<rect x="346.50" y="168.90" width="3.80" height="3.1" fill="#1c2610"/>
<rect x="346.65" y="156.00" width="3.50" height="3.6" rx="1.1" fill="#557126"/>
<rect x="343.80" y="159.00" width="9.20" height="3.9" rx="1.2" fill="#557126"/>
<rect x="346.00" y="162.00" width="4.80" height="7.4" fill="#557126"/>
<line x1="348.40" y1="163.60" x2="348.40" y2="168.90" stroke="#c3d1a2" stroke-width="0.9"/>
<ellipse cx="360.70" cy="170.50" rx="4.90" ry="1.75" fill="#f4f5ee" stroke="#0a0a0a" stroke-width="1.15"/>
<rect x="358.80" y="168.90" width="3.80" height="3.1" fill="#1c2610"/>
<rect x="358.95" y="156.00" width="3.50" height="3.6" rx="1.1" fill="#557126"/>
<rect x="356.10" y="159.00" width="9.20" height="3.9" rx="1.2" fill="#557126"/>
<rect x="358.30" y="162.00" width="4.80" height="7.4" fill="#557126"/>
<line x1="360.70" y1="163.60" x2="360.70" y2="168.90" stroke="#c3d1a2" stroke-width="0.9"/>
<ellipse cx="348.40" cy="186.50" rx="4.90" ry="1.75" fill="#f4f5ee" stroke="#0a0a0a" stroke-width="1.15"/>
<rect x="346.50" y="184.90" width="3.80" height="3.1" fill="#1c2610"/>
<rect x="346.65" y="172.00" width="3.50" height="3.6" rx="1.1" fill="#557126"/>
<rect x="343.80" y="175.00" width="9.20" height="3.9" rx="1.2" fill="#557126"/>
<rect x="346.00" y="178.00" width="4.80" height="7.4" fill="#557126"/>
<line x1="348.40" y1="179.60" x2="348.40" y2="184.90" stroke="#c3d1a2" stroke-width="0.9"/>
<ellipse cx="360.70" cy="186.50" rx="4.90" ry="1.75" fill="#f4f5ee" stroke="#0a0a0a" stroke-width="1.15"/>
<rect x="358.80" y="184.90" width="3.80" height="3.1" fill="#1c2610"/>
<rect x="358.95" y="172.00" width="3.50" height="3.6" rx="1.1" fill="#557126"/>
<rect x="356.10" y="175.00" width="9.20" height="3.9" rx="1.2" fill="#557126"/>
<rect x="358.30" y="178.00" width="4.80" height="7.4" fill="#557126"/>
<line x1="360.70" y1="179.60" x2="360.70" y2="184.90" stroke="#c3d1a2" stroke-width="0.9"/>
<rect x="289.8" y="144" width="50" height="37.4" fill="#fff" stroke="#7b2c2c" stroke-width="1.8"/>
<circle cx="298.1" cy="158.6" r="6.3" fill="#4f6b23"/>
<circle cx="301.4" cy="157" r="1" fill="#fff"/>
<path d="M293.4,180.4 V171 a3,3 0 0 1 3,-3 h5.6 a3,3 0 0 1 3,3 V180.4 Z" fill="#4f6b23"/>
<path d="M303.5,169.5 L307.4,163.2" stroke="#4f6b23" stroke-width="2.4" stroke-linecap="round"/>
<path d="M308,161.8 L313.5,159.4 M308.2,162.4 L314,162.4 M308,163 L313.5,165.6" stroke="#e0302a" stroke-width="0.7"/>
<line x1="329.52" y1="154.01" x2="331.58" y2="154.43" stroke="#c62a20" stroke-width="1.1"/>
<circle cx="331.58" cy="154.43" r="0.85" fill="#c62a20"/>
<line x1="328.27" y1="156.22" x2="329.69" y2="157.77" stroke="#c62a20" stroke-width="1.1"/>
<circle cx="329.69" cy="157.77" r="0.85" fill="#c62a20"/>
<line x1="325.97" y1="157.27" x2="326.21" y2="159.36" stroke="#c62a20" stroke-width="1.1"/>
<circle cx="326.21" cy="159.36" r="0.85" fill="#c62a20"/>
<line x1="323.48" y1="156.77" x2="322.45" y2="158.60" stroke="#c62a20" stroke-width="1.1"/>
<circle cx="322.45" cy="158.60" r="0.85" fill="#c62a20"/>
<line x1="321.77" y1="154.90" x2="319.86" y2="155.78" stroke="#c62a20" stroke-width="1.1"/>
<circle cx="319.86" cy="155.78" r="0.85" fill="#c62a20"/>
<line x1="321.48" y1="152.39" x2="319.42" y2="151.97" stroke="#c62a20" stroke-width="1.1"/>
<circle cx="319.42" cy="151.97" r="0.85" fill="#c62a20"/>
<line x1="322.73" y1="150.18" x2="321.31" y2="148.63" stroke="#c62a20" stroke-width="1.1"/>
<circle cx="321.31" cy="148.63" r="0.85" fill="#c62a20"/>
<line x1="325.03" y1="149.13" x2="324.79" y2="147.04" stroke="#c62a20" stroke-width="1.1"/>
<circle cx="324.79" cy="147.04" r="0.85" fill="#c62a20"/>
<line x1="327.52" y1="149.63" x2="328.55" y2="147.80" stroke="#c62a20" stroke-width="1.1"/>
<circle cx="328.55" cy="147.80" r="0.85" fill="#c62a20"/>
<line x1="329.23" y1="151.50" x2="331.14" y2="150.62" stroke="#c62a20" stroke-width="1.1"/>
<circle cx="331.14" cy="150.62" r="0.85" fill="#c62a20"/>
<circle cx="325.5" cy="153.2" r="4.1" fill="#4f6b23" stroke="#c62a20" stroke-width="1.1"/>
<line x1="319.80" y1="162.00" x2="321.30" y2="162.00" stroke="#c62a20" stroke-width="0.9"/>
<circle cx="321.30" cy="162.00" r="0.60" fill="#c62a20"/>
<line x1="319.21" y1="163.41" x2="320.27" y2="164.47" stroke="#c62a20" stroke-width="0.9"/>
<circle cx="320.27" cy="164.47" r="0.60" fill="#c62a20"/>
<line x1="317.80" y1="164.00" x2="317.80" y2="165.50" stroke="#c62a20" stroke-width="0.9"/>
<circle cx="317.80" cy="165.50" r="0.60" fill="#c62a20"/>
<line x1="316.39" y1="163.41" x2="315.33" y2="164.47" stroke="#c62a20" stroke-width="0.9"/>
<circle cx="315.33" cy="164.47" r="0.60" fill="#c62a20"/>
<line x1="315.80" y1="162.00" x2="314.30" y2="162.00" stroke="#c62a20" stroke-width="0.9"/>
<circle cx="314.30" cy="162.00" r="0.60" fill="#c62a20"/>
<line x1="316.39" y1="160.59" x2="315.33" y2="159.53" stroke="#c62a20" stroke-width="0.9"/>
<circle cx="315.33" cy="159.53" r="0.60" fill="#c62a20"/>
<line x1="317.80" y1="160.00" x2="317.80" y2="158.50" stroke="#c62a20" stroke-width="0.9"/>
<circle cx="317.80" cy="158.50" r="0.60" fill="#c62a20"/>
<line x1="319.21" y1="160.59" x2="320.27" y2="159.53" stroke="#c62a20" stroke-width="0.9"/>
<circle cx="320.27" cy="159.53" r="0.60" fill="#c62a20"/>
<circle cx="317.8" cy="162.0" r="2.0" fill="#4f6b23" stroke="#c62a20" stroke-width="0.9"/>
<line x1="330.37" y1="167.29" x2="332.09" y2="167.82" stroke="#c62a20" stroke-width="1.0"/>
<circle cx="332.09" cy="167.82" r="0.75" fill="#c62a20"/>
<line x1="329.13" y1="168.92" x2="330.10" y2="170.43" stroke="#c62a20" stroke-width="1.0"/>
<circle cx="330.10" cy="170.43" r="0.75" fill="#c62a20"/>
<line x1="327.12" y1="169.38" x2="326.90" y2="171.16" stroke="#c62a20" stroke-width="1.0"/>
<circle cx="326.90" cy="171.16" r="0.75" fill="#c62a20"/>
<line x1="325.30" y1="168.44" x2="323.98" y2="169.66" stroke="#c62a20" stroke-width="1.0"/>
<circle cx="323.98" cy="169.66" r="0.75" fill="#c62a20"/>
<line x1="324.50" y1="166.55" x2="322.71" y2="166.64" stroke="#c62a20" stroke-width="1.0"/>
<circle cx="322.71" cy="166.64" r="0.75" fill="#c62a20"/>
<line x1="325.11" y1="164.59" x2="323.68" y2="163.50" stroke="#c62a20" stroke-width="1.0"/>
<circle cx="323.68" cy="163.50" r="0.75" fill="#c62a20"/>
<line x1="326.83" y1="163.47" x2="326.44" y2="161.72" stroke="#c62a20" stroke-width="1.0"/>
<circle cx="326.44" cy="161.72" r="0.75" fill="#c62a20"/>
<line x1="328.87" y1="163.73" x2="329.69" y2="162.13" stroke="#c62a20" stroke-width="1.0"/>
<circle cx="329.69" cy="162.13" r="0.75" fill="#c62a20"/>
<line x1="330.27" y1="165.24" x2="331.92" y2="164.54" stroke="#c62a20" stroke-width="1.0"/>
<circle cx="331.92" cy="164.54" r="0.75" fill="#c62a20"/>
<circle cx="327.5" cy="166.4" r="3.0" fill="#4f6b23" stroke="#c62a20" stroke-width="1.0"/>
<rect x="312.8" y="172.6" width="19.4" height="6.8" rx="3.4" fill="#fff" stroke="#111" stroke-width="0.9"/>
<rect x="316.8" y="172.8" width="10.8" height="6.4" fill="#4f6b23" stroke="#111" stroke-width="0.6"/>
<path d="M317,175 h10.4 M317,177 h10.4" stroke="#2c3a14" stroke-width="0.4"/>
<rect x="287.30" y="189.00" width="79.50" height="34.30" fill="#ffff33" stroke="#222" stroke-width="0.9"/>
<line x1="287.30" y1="201.3" x2="366.80" y2="201.3" stroke="#222" stroke-width="0.9"/>
<text x="298.75" y="198.70" font-family="'Liberation Sans', sans-serif" font-size="9.3" font-weight="bold" textLength="56.60" lengthAdjust="spacingAndGlyphs" fill="#20262c" stroke="#20262c" stroke-width="0.12" stroke-linejoin="round">Casi confermati</text>
<text x="302.30" y="217.20" font-family="'Liberation Sans', sans-serif" font-size="20.6" font-weight="bold" textLength="49.50" lengthAdjust="spacingAndGlyphs" fill="#000" stroke="#000" stroke-width="0.3" stroke-linejoin="round">2.086</text>
<rect x="287.30" y="235.20" width="79.50" height="22.10" fill="#ffff33" stroke="#222" stroke-width="0.9"/>
<text x="316.55" y="252.00" font-family="'Liberation Sans', sans-serif" font-size="20.2" font-weight="bold" textLength="21.00" lengthAdjust="spacingAndGlyphs" fill="#000" stroke="#000" stroke-width="0.3" stroke-linejoin="round">23</text>
<text x="221.80" y="251.80" font-family="'Liberation Sans', sans-serif" font-size="15.4" font-weight="bold" textLength="62.90" lengthAdjust="spacingAndGlyphs" fill="#1f3462" stroke="#1f3462" stroke-width="0.35" stroke-linejoin="round">nuovi casi</text>
<rect x="424.40" y="123.10" width="81.30" height="63.90" fill="#fff" stroke="#7d3434" stroke-width="1"/>
<g fill="none" stroke="#4f6228" stroke-width="3.1">
<path d="M429.6,154.4 L465.6,128.4 L500.8,154.4" stroke-linejoin="miter" stroke-width="3.3"/>
<path d="M439.6,148 V179.5 H491.7 V148"/>
<path d="M458,180 V158.9 H474.3 V180" stroke-width="2.7"/>
</g>
<rect x="449.8" y="133.2" width="4.5" height="8.5" fill="#4f6228"/>
<ellipse cx="465" cy="145.5" rx="7.3" ry="5" fill="#4f6228"/>
<rect x="424.60" y="189.00" width="84.20" height="34.30" fill="#ffff33" stroke="#222" stroke-width="0.9"/>
<line x1="424.60" y1="201.3" x2="508.80" y2="201.3" stroke="#222" stroke-width="0.9"/>
<text x="434.35" y="198.70" font-family="'Liberation Sans', sans-serif" font-size="9.3" font-weight="bold" textLength="64.70" lengthAdjust="spacingAndGlyphs" fill="#20262c" stroke="#20262c" stroke-width="0.12" stroke-linejoin="round">Isolati a domicilio</text>
<text x="450.60" y="217.20" font-family="'Liberation Sans', sans-serif" font-size="20.6" font-weight="bold" textLength="32.20" lengthAdjust="spacingAndGlyphs" fill="#000" stroke="#000" stroke-width="0.3" stroke-linejoin="round">544</text>
<rect x="539.20" y="122.30" width="72.40" height="65.10" fill="#fff" stroke="#7d3434" stroke-width="1"/>
<g fill="#4f6228">
<rect x="549.7" y="148" width="3.9" height="28.8"/>
<rect x="595.8" y="149" width="3.9" height="28.4"/>
<rect x="553" y="155.7" width="43.4" height="9.9"/>
<circle cx="575.3" cy="141.5" r="3.2"/>
<path d="M570.6,138.6 L571.6,136.2 Q575.3,133.2 579,136.2 L580,138.6 Q575.3,137.4 570.6,138.6 Z"/>
<path d="M566.6,154.2 L570.6,146.4 Q575.3,144.2 580,146.4 L585,154.2 L582.6,155.8 H569 Z"/>
</g>
<circle cx="558" cy="156.3" r="3.3" fill="#4f6228" stroke="#e6ecd6" stroke-width="0.8"/>
<rect x="554.2" y="159.8" width="8.2" height="2.6" fill="#dfe6cc"/>
<path d="M571.6,148.2 L569.8,155 M579,148.2 L580.8,155" stroke="#e3ead0" stroke-width="0.6"/>
<path d="M574.2,136.2 h2.2 M575.3,135.2 v2" stroke="#e3ead0" stroke-width="0.6"/>
<rect x="538.80" y="189.00" width="74.60" height="34.30" fill="#ffff33" stroke="#222" stroke-width="0.9"/>
<line x1="538.80" y1="201.3" x2="613.40" y2="201.3" stroke="#222" stroke-width="0.9"/>
<text x="557.70" y="198.70" font-family="'Liberation Sans', sans-serif" font-size="9.3" font-weight="bold" textLength="36.80" lengthAdjust="spacingAndGlyphs" fill="#20262c" stroke="#20262c" stroke-width="0.12" stroke-linejoin="round">Ricoverati</text>
<text x="566.10" y="217.20" font-family="'Liberation Sans', sans-serif" font-size="20.6" font-weight="bold" textLength="20.00" lengthAdjust="spacingAndGlyphs" fill="#000" stroke="#000" stroke-width="0.3" stroke-linejoin="round">37</text>
<rect x="647.60" y="122.30" width="87.60" height="65.10" fill="#fff" stroke="#7d3434" stroke-width="1"/>
<g fill="#4f6228">
<rect x="660.3" y="148.9" width="4.2" height="28.8"/>
<rect x="715.7" y="149.6" width="4.4" height="28.8"/>
<rect x="663" y="155.8" width="54" height="10.9"/>
<rect x="693.4" y="139.2" width="19" height="13.3"/>
<rect x="675.8" y="140.6" width="10.3" height="8.7" rx="2.2"/>
</g>
<path d="M681.2,141 C681.4,124.5 688.4,124.5 689.4,141 L690.2,156" fill="none" stroke="#4f6228" stroke-width="1.1"/>
<path d="M680,149.2 Q679.4,153.4 674.6,154.6" fill="none" stroke="#4f6228" stroke-width="1.1"/>
<ellipse cx="670.5" cy="156.5" rx="4.1" ry="3" fill="#4f6228" stroke="#e6ecd6" stroke-width="0.8"/>
<rect x="666" y="160.6" width="9.6" height="2.4" fill="#dfe6cc"/>
<path d="M695.6,148 l1,-4.6 l1.2,5.4 l1.2,-2.8 l1.3,1.4 l1.3,-4.4 l1.4,5.6 l1.3,-2.2 l1.3,1.2 l1.2,-4.2 l1.2,4.6 l1.2,-1.6" fill="none" stroke="#e9efd8" stroke-width="0.7"/>
<rect x="647.10" y="189.00" width="87.60" height="34.30" fill="#ffff33" stroke="#222" stroke-width="0.9"/>
<line x1="647.10" y1="201.3" x2="734.70" y2="201.3" stroke="#222" stroke-width="0.9"/>
<text x="659.80" y="198.70" font-family="'Liberation Sans', sans-serif" font-size="9.3" font-weight="bold" textLength="62.20" lengthAdjust="spacingAndGlyphs" fill="#20262c" stroke="#20262c" stroke-width="0.12" stroke-linejoin="round">Terapia intensiva</text>
<text x="686.05" y="217.20" font-family="'Liberation Sans', sans-serif" font-size="20.6" font-weight="bold" textLength="9.70" lengthAdjust="spacingAndGlyphs" fill="#000" stroke="#000" stroke-width="0.3" stroke-linejoin="round">2</text>
<rect x="647.10" y="235.20" width="87.60" height="22.10" fill="#ffff33" stroke="#222" stroke-width="0.9"/>
<text x="675.90" y="252.00" font-family="'Liberation Sans', sans-serif" font-size="20.2" font-weight="bold" textLength="30.00" lengthAdjust="spacingAndGlyphs" fill="#000" stroke="#000" stroke-width="0.3" stroke-linejoin="round">583</text>
<text x="580.80" y="251.80" font-family="'Liberation Sans', sans-serif" font-size="15.4" font-weight="bold" textLength="60.50" lengthAdjust="spacingAndGlyphs" fill="#1f3462" stroke="#1f3462" stroke-width="0.35" stroke-linejoin="round">casi attivi</text>
<rect x="793.80" y="122.30" width="83.20" height="65.90" fill="#fff" stroke="#7d3434" stroke-width="1"/>
<ellipse cx="799.90" cy="138.50" rx="3.92" ry="1.75" fill="#f4f5ee" stroke="#0a0a0a" stroke-width="1.15"/>
<rect x="798.38" y="136.90" width="3.04" height="3.1" fill="#1c2610"/>
<rect x="798.50" y="124.00" width="2.80" height="3.6" rx="1.1" fill="#557126"/>
<rect x="796.22" y="127.00" width="7.36" height="3.9" rx="1.2" fill="#557126"/>
<rect x="797.98" y="130.00" width="3.84" height="7.4" fill="#557126"/>
<line x1="799.90" y1="131.60" x2="799.90" y2="136.90" stroke="#c3d1a2" stroke-width="0.9"/>
<ellipse cx="811.00" cy="138.50" rx="3.92" ry="1.75" fill="#f4f5ee" stroke="#0a0a0a" stroke-width="1.15"/>
<rect x="809.48" y="136.90" width="3.04" height="3.1" fill="#1c2610"/>
<rect x="809.60" y="124.00" width="2.80" height="3.6" rx="1.1" fill="#557126"/>
<rect x="807.32" y="127.00" width="7.36" height="3.9" rx="1.2" fill="#557126"/>
<rect x="809.08" y="130.00" width="3.84" height="7.4" fill="#557126"/>
<line x1="811.00" y1="131.60" x2="811.00" y2="136.90" stroke="#c3d1a2" stroke-width="0.9"/>
<ellipse cx="822.60" cy="138.50" rx="3.92" ry="1.75" fill="#f4f5ee" stroke="#0a0a0a" stroke-width="1.15"/>
<rect x="821.08" y="136.90" width="3.04" height="3.1" fill="#1c2610"/>
<rect x="821.20" y="124.00" width="2.80" height="3.6" rx="1.1" fill="#557126"/>
<rect x="818.92" y="127.00" width="7.36" height="3.9" rx="1.2" fill="#557126"/>
<rect x="820.68" y="130.00" width="3.84" height="7.4" fill="#557126"/>
<line x1="822.60" y1="131.60" x2="822.60" y2="136.90" stroke="#c3d1a2" stroke-width="0.9"/>
<ellipse cx="833.20" cy="138.50" rx="3.92" ry="1.75" fill="#f4f5ee" stroke="#0a0a0a" stroke-width="1.15"/>
<rect x="831.68" y="136.90" width="3.04" height="3.1" fill="#1c2610"/>
<rect x="831.80" y="124.00" width="2.80" height="3.6" rx="1.1" fill="#557126"/>
<rect x="829.52" y="127.00" width="7.36" height="3.9" rx="1.2" fill="#557126"/>
<rect x="831.28" y="130.00" width="3.84" height="7.4" fill="#557126"/>
<line x1="833.20" y1="131.60" x2="833.20" y2="136.90" stroke="#c3d1a2" stroke-width="0.9"/>
<ellipse cx="843.70" cy="138.50" rx="3.92" ry="1.75" fill="#f4f5ee" stroke="#0a0a0a" stroke-width="1.15"/>
<rect x="842.18" y="136.90" width="3.04" height="3.1" fill="#1c2610"/>
<rect x="842.30" y="124.00" width="2.80" height="3.6" rx="1.1" fill="#557126"/>
<rect x="840.02" y="127.00" width="7.36" height="3.9" rx="1.2" fill="#557126"/>
<rect x="841.78" y="130.00" width="3.84" height="7.4" fill="#557126"/>
<line x1="843.70" y1="131.60" x2="843.70" y2="136.90" stroke="#c3d1a2" stroke-width="0.9"/>
<ellipse cx="856.50" cy="138.50" rx="4.90" ry="1.75" fill="#f4f5ee" stroke="#0a0a0a" stroke-width="1.15"/>
<rect x="854.60" y="136.90" width="3.80" height="3.1" fill="#1c2610"/>
<rect x="854.75" y="124.00" width="3.50" height="3.6" rx="1.1" fill="#557126"/>
<rect x="851.90" y="127.00" width="9.20" height="3.9" rx="1.2" fill="#557126"/>
<rect x="854.10" y="130.00" width="4.80" height="7.4" fill="#557126"/>
<line x1="856.50" y1="131.60" x2="856.50" y2="136.90" stroke="#c3d1a2" stroke-width="0.9"/>
<ellipse cx="869.00" cy="138.50" rx="4.90" ry="1.75" fill="#f4f5ee" stroke="#0a0a0a" stroke-width="1.15"/>
<rect x="867.10" y="136.90" width="3.80" height="3.1" fill="#1c2610"/>
<rect x="867.25" y="124.00" width="3.50" height="3.6" rx="1.1" fill="#557126"/>
<rect x="864.40" y="127.00" width="9.20" height="3.9" rx="1.2" fill="#557126"/>
<rect x="866.60" y="130.00" width="4.80" height="7.4" fill="#557126"/>
<line x1="869.00" y1="131.60" x2="869.00" y2="136.90" stroke="#c3d1a2" stroke-width="0.9"/>
<ellipse cx="856.50" cy="155.20" rx="4.90" ry="1.75" fill="#f4f5ee" stroke="#0a0a0a" stroke-width="1.15"/>
<rect x="854.60" y="153.60" width="3.80" height="3.1" fill="#1c2610"/>
<rect x="854.75" y="140.70" width="3.50" height="3.6" rx="1.1" fill="#557126"/>
<rect x="851.90" y="143.70" width="9.20" height="3.9" rx="1.2" fill="#557126"/>
<rect x="854.10" y="146.70" width="4.80" height="7.4" fill="#557126"/>
<line x1="856.50" y1="148.30" x2="856.50" y2="153.60" stroke="#c3d1a2" stroke-width="0.9"/>
<ellipse cx="869.00" cy="155.20" rx="4.90" ry="1.75" fill="#f4f5ee" stroke="#0a0a0a" stroke-width="1.15"/>
<rect x="867.10" y="153.60" width="3.80" height="3.1" fill="#1c2610"/>
<rect x="867.25" y="140.70" width="3.50" height="3.6" rx="1.1" fill="#557126"/>
<rect x="864.40" y="143.70" width="9.20" height="3.9" rx="1.2" fill="#557126"/>
<rect x="866.60" y="146.70" width="4.80" height="7.4" fill="#557126"/>
<line x1="869.00" y1="148.30" x2="869.00" y2="153.60" stroke="#c3d1a2" stroke-width="0.9"/>
<ellipse cx="856.50" cy="171.90" rx="4.90" ry="1.75" fill="#f4f5ee" stroke="#0a0a0a" stroke-width="1.15"/>
<rect x="854.60" y="170.30" width="3.80" height="3.1" fill="#1c2610"/>
<rect x="854.75" y="157.40" width="3.50" height="3.6" rx="1.1" fill="#557126"/>
<rect x="851.90" y="160.40" width="9.20" height="3.9" rx="1.2" fill="#557126"/>
<rect x="854.10" y="163.40" width="4.80" height="7.4" fill="#557126"/>
<line x1="856.50" y1="165.00" x2="856.50" y2="170.30" stroke="#c3d1a2" stroke-width="0.9"/>
<ellipse cx="869.00" cy="171.90" rx="4.90" ry="1.75" fill="#f4f5ee" stroke="#0a0a0a" stroke-width="1.15"/>
<rect x="867.10" y="170.30" width="3.80" height="3.1" fill="#1c2610"/>
<rect x="867.25" y="157.40" width="3.50" height="3.6" rx="1.1" fill="#557126"/>
<rect x="864.40" y="160.40" width="9.20" height="3.9" rx="1.2" fill="#557126"/>
<rect x="866.60" y="163.40" width="4.80" height="7.4" fill="#557126"/>
<line x1="869.00" y1="165.00" x2="869.00" y2="170.30" stroke="#c3d1a2" stroke-width="0.9"/>
<ellipse cx="856.50" cy="187.50" rx="4.90" ry="1.75" fill="#f4f5ee" stroke="#0a0a0a" stroke-width="1.15"/>
<rect x="854.60" y="185.90" width="3.80" height="3.1" fill="#1c2610"/>
<rect x="854.75" y="173.00" width="3.50" height="3.6" rx="1.1" fill="#557126"/>
<rect x="851.90" y="176.00" width="9.20" height="3.9" rx="1.2" fill="#557126"/>
<rect x="854.10" y="179.00" width="4.80" height="7.4" fill="#557126"/>
<line x1="856.50" y1="180.60" x2="856.50" y2="185.90" stroke="#c3d1a2" stroke-width="0.9"/>
<ellipse cx="869.00" cy="187.50" rx="4.90" ry="1.75" fill="#f4f5ee" stroke="#0a0a0a" stroke-width="1.15"/>
<rect x="867.10" y="185.90" width="3.80" height="3.1" fill="#1c2610"/>
<rect x="867.25" y="173.00" width="3.50" height="3.6" rx="1.1" fill="#557126"/>
<rect x="864.40" y="176.00" width="9.20" height="3.9" rx="1.2" fill="#557126"/>
<rect x="866.60" y="179.00" width="4.80" height="7.4" fill="#557126"/>
<line x1="869.00" y1="180.60" x2="869.00" y2="185.90" stroke="#c3d1a2" stroke-width="0.9"/>
<g fill="#4f6228">
<ellipse cx="821.4" cy="147.2" rx="7.1" ry="5.5"/>
<rect x="812.3" y="154.4" width="19.8" height="22.2"/>
<polygon points="812.6,154.4 819,156.5 800.2,168.6 796.8,164.6"/>
<polygon points="831.8,154.4 836.6,159.2 838.2,149.8 842.6,151.2 840.2,164.8 834.8,166.4 830.5,162"/>
</g>
<circle cx="818.9" cy="145.6" r="0.8" fill="#fff"/><circle cx="823.9" cy="145.6" r="0.8" fill="#fff"/>
<path d="M816.8,148.2 Q821.4,152.4 826,148.2 Q821.4,150 816.8,148.2 Z" fill="#fff" stroke="#fff" stroke-width="0.5"/>
<ellipse cx="821.3" cy="184.4" rx="15.6" ry="3.1" fill="#fff" stroke="#111" stroke-width="0.9"/>
<rect x="813.6" y="181.4" width="16" height="6" fill="#4f6b23" stroke="#111" stroke-width="0.5"/>
<rect x="794.20" y="189.00" width="83.30" height="34.30" fill="#ffff33" stroke="#222" stroke-width="0.9"/>
<line x1="794.20" y1="201.3" x2="877.50" y2="201.3" stroke="#222" stroke-width="0.9"/>
<text x="807.30" y="198.70" font-family="'Liberation Sans', sans-serif" font-size="9.3" font-weight="bold" textLength="57.10" lengthAdjust="spacingAndGlyphs" fill="#20262c" stroke="#20262c" stroke-width="0.12" stroke-linejoin="round">Guariti/dimessi</text>
<text x="811.35" y="217.20" font-family="'Liberation Sans', sans-serif" font-size="20.6" font-weight="bold" textLength="49.00" lengthAdjust="spacingAndGlyphs" fill="#000" stroke="#000" stroke-width="0.3" stroke-linejoin="round">1.402</text>
<rect x="903.60" y="122.30" width="84.90" height="65.10" fill="#fff" stroke="#8f6a6a" stroke-width="1"/>
<g transform="translate(945.8,156.2) rotate(-20.3)">
<rect x="-37.3" y="-10.4" width="74.6" height="20.8" rx="4.5" fill="#fff" stroke="#4f6228" stroke-width="4.8"/>
<text x="-29.80" y="3.90" font-family="'Liberation Sans', sans-serif" font-size="10.8" font-weight="bold" textLength="59.60" lengthAdjust="spacingAndGlyphs" fill="#6b1a2a" stroke="#6b1a2a" stroke-width="0.55" stroke-linejoin="round">DECEASED</text>
</g>
<rect x="903.70" y="189.00" width="85.10" height="34.30" fill="#ffff33" stroke="#222" stroke-width="0.9"/>
<line x1="903.70" y1="201.3" x2="988.80" y2="201.3" stroke="#222" stroke-width="0.9"/>
<text x="929.75" y="198.70" font-family="'Liberation Sans', sans-serif" font-size="9.3" font-weight="bold" textLength="33.00" lengthAdjust="spacingAndGlyphs" fill="#20262c" stroke="#20262c" stroke-width="0.12" stroke-linejoin="round">Deceduti</text>
<text x="930.45" y="217.20" font-family="'Liberation Sans', sans-serif" font-size="20.6" font-weight="bold" textLength="31.60" lengthAdjust="spacingAndGlyphs" fill="#000" stroke="#000" stroke-width="0.3" stroke-linejoin="round">101</text>
<rect x="903.70" y="235.20" width="85.10" height="22.10" fill="#ffff33" stroke="#222" stroke-width="0.9"/>
<text x="923.65" y="252.00" font-family="'Liberation Sans', sans-serif" font-size="20.2" font-weight="bold" textLength="45.20" lengthAdjust="spacingAndGlyphs" fill="#000" stroke="#000" stroke-width="0.3" stroke-linejoin="round">1.503</text>
<text x="838.10" y="251.80" font-family="'Liberation Sans', sans-serif" font-size="15.4" font-weight="bold" textLength="63.00" lengthAdjust="spacingAndGlyphs" fill="#1f3462" stroke="#1f3462" stroke-width="0.35" stroke-linejoin="round">casi chiusi</text>
</g>
<g id="chart">
<rect x="22.9" y="262.9" width="783.2" height="186.6" fill="#c5e0b4"/>
<rect x="22.9" y="450.9" width="979.6" height="4" fill="#c5e0b4"/>
<rect x="213.2" y="450.8" width="14.1" height="3" fill="#232a96"/>
<text y="275.40" font-family="'Liberation Sans', sans-serif" font-size="8.8" font-weight="bold" fill="#1f1f1f" stroke="#1f1f1f" stroke-width="0.3" stroke-linejoin="round"><tspan x="25.00" textLength="19.90" lengthAdjust="spacingAndGlyphs">Covid</tspan> <tspan x="48.50" textLength="8.10" lengthAdjust="spacingAndGlyphs">19</tspan> <tspan x="59.50" textLength="2.40" lengthAdjust="spacingAndGlyphs">-</tspan> <tspan x="64.30" textLength="21.50" lengthAdjust="spacingAndGlyphs">Totale</tspan> <tspan x="89.00" textLength="12.90" lengthAdjust="spacingAndGlyphs">casi</tspan> <tspan x="105.50" textLength="40.00" lengthAdjust="spacingAndGlyphs">confermati</tspan> <tspan x="147.90" textLength="5.50" lengthAdjust="spacingAndGlyphs">in</tspan> <tspan x="156.60" textLength="29.50" lengthAdjust="spacingAndGlyphs">Regione</tspan> <tspan x="189.40" textLength="29.20" lengthAdjust="spacingAndGlyphs">Calabria</tspan></text>
<rect x="221.1" y="262.9" width="14.2" height="17.3" fill="#232a96"/>
<clipPath id="slc"><ellipse cx="228.4" cy="271.6" rx="5.6" ry="7.1"/></clipPath>
<g clip-path="url(#slc)">
<rect x="222" y="264" width="13" height="15.5" fill="#e4e4e8"/>
<polygon points="228.4,271.6 222.6,263.5 234.2,263.5" fill="#d9c032"/>
<polygon points="228.4,271.6 222.6,279.7 234.2,279.7" fill="#d9c032"/>
</g>
<path d="M228.4,265.4 v3.6" stroke="#5a9a5a" stroke-width="1"/>
<rect x="227.4" y="274.6" width="2" height="2.6" fill="#4ab0d8"/>
<ellipse cx="225.2" cy="271.8" rx="0.7" ry="1.3" fill="#444"/><ellipse cx="231.6" cy="271.8" rx="0.7" ry="1.3" fill="#444"/>
<rect x="54.75" y="281.4" width="719.25" height="148.60000000000002" fill="#fff"/>
<line x1="54.75" y1="395.80" x2="774.0" y2="395.80" stroke="#c6c6c6" stroke-width="0.9"/>
<line x1="54.75" y1="362.30" x2="774.0" y2="362.30" stroke="#c6c6c6" stroke-width="0.9"/>
<line x1="54.75" y1="327.80" x2="774.0" y2="327.80" stroke="#c6c6c6" stroke-width="0.9"/>
<line x1="54.75" y1="295.10" x2="774.0" y2="295.10" stroke="#c6c6c6" stroke-width="0.9"/>
<line x1="52.55" y1="429.10" x2="54.75" y2="429.10" stroke="#9a9a9a" stroke-width="0.6"/>
<text x="45.20" y="431.50" font-family="'Liberation Sans', sans-serif" font-size="6.8" textLength="3.40" lengthAdjust="spacingAndGlyphs" fill="#3f3f3f">0</text>
<line x1="52.55" y1="395.80" x2="54.75" y2="395.80" stroke="#9a9a9a" stroke-width="0.6"/>
<text x="38.40" y="398.20" font-family="'Liberation Sans', sans-serif" font-size="6.8" textLength="10.20" lengthAdjust="spacingAndGlyphs" fill="#3f3f3f">500</text>
<line x1="52.55" y1="362.30" x2="54.75" y2="362.30" stroke="#9a9a9a" stroke-width="0.6"/>
<text x="35.00" y="364.70" font-family="'Liberation Sans', sans-serif" font-size="6.8" textLength="13.60" lengthAdjust="spacingAndGlyphs" fill="#3f3f3f">1000</text>
<line x1="52.55" y1="327.80" x2="54.75" y2="327.80" stroke="#9a9a9a" stroke-width="0.6"/>
<text x="35.00" y="330.20" font-family="'Liberation Sans', sans-serif" font-size="6.8" textLength="13.60" lengthAdjust="spacingAndGlyphs" fill="#3f3f3f">1500</text>
<line x1="52.55" y1="295.10" x2="54.75" y2="295.10" stroke="#9a9a9a" stroke-width="0.6"/>
<text x="35.00" y="297.50" font-family="'Liberation Sans', sans-serif" font-size="6.8" textLength="13.60" lengthAdjust="spacingAndGlyphs" fill="#3f3f3f">2000</text>
<line x1="774.0" y1="429.10" x2="776.2" y2="429.10" stroke="#9a9a9a" stroke-width="0.6"/>
<text x="780.20" y="431.30" font-family="'Liberation Sans', sans-serif" font-size="6.8" textLength="3.30" lengthAdjust="spacingAndGlyphs" fill="#3f3f3f">0</text>
<line x1="774.0" y1="404.48" x2="776.2" y2="404.48" stroke="#9a9a9a" stroke-width="0.6"/>
<text x="780.20" y="406.68" font-family="'Liberation Sans', sans-serif" font-size="6.8" textLength="6.60" lengthAdjust="spacingAndGlyphs" fill="#3f3f3f">20</text>
<line x1="774.0" y1="379.87" x2="776.2" y2="379.87" stroke="#9a9a9a" stroke-width="0.6"/>
<text x="780.20" y="382.07" font-family="'Liberation Sans', sans-serif" font-size="6.8" textLength="6.60" lengthAdjust="spacingAndGlyphs" fill="#3f3f3f">40</text>
<line x1="774.0" y1="355.25" x2="776.2" y2="355.25" stroke="#9a9a9a" stroke-width="0.6"/>
<text x="780.20" y="357.45" font-family="'Liberation Sans', sans-serif" font-size="6.8" textLength="6.60" lengthAdjust="spacingAndGlyphs" fill="#3f3f3f">60</text>
<line x1="774.0" y1="330.64" x2="776.2" y2="330.64" stroke="#9a9a9a" stroke-width="0.6"/>
<text x="780.20" y="332.84" font-family="'Liberation Sans', sans-serif" font-size="6.8" textLength="6.60" lengthAdjust="spacingAndGlyphs" fill="#3f3f3f">80</text>
<line x1="774.0" y1="306.02" x2="776.2" y2="306.02" stroke="#9a9a9a" stroke-width="0.6"/>
<text x="780.20" y="308.22" font-family="'Liberation Sans', sans-serif" font-size="6.8" textLength="9.90" lengthAdjust="spacingAndGlyphs" fill="#3f3f3f">100</text>
<line x1="774.0" y1="281.40" x2="776.2" y2="281.40" stroke="#9a9a9a" stroke-width="0.6"/>
<text x="780.20" y="283.60" font-family="'Liberation Sans', sans-serif" font-size="6.8" textLength="9.90" lengthAdjust="spacingAndGlyphs" fill="#3f3f3f">120</text>
<line x1="54.75" y1="281.4" x2="54.75" y2="429.1" stroke="#b0b0b0" stroke-width="0.6"/>
<line x1="774.0" y1="281.4" x2="774.0" y2="429.1" stroke="#b0b0b0" stroke-width="0.6"/>
<path d="M54.15,429.10V427.47h3.39V429.10zM70.51,429.10V427.47h3.39V429.10zM73.78,429.10V426.24h3.39V429.10zM80.33,429.10V422.55h3.39V429.10zM83.60,429.10V426.24h3.39V429.10zM86.87,429.10V426.24h3.39V429.10zM90.14,429.10V421.32h3.39V429.10zM93.41,429.10V411.47h3.39V429.10zM96.69,429.10V422.55h3.39V429.10zM99.96,429.10V401.62h3.39V429.10zM103.23,429.10V418.85h3.39V429.10zM106.50,429.10V402.85h3.39V429.10zM109.77,429.10V397.93h3.39V429.10zM113.05,429.10V410.24h3.39V429.10zM116.32,429.10V379.47h3.39V429.10zM119.59,429.10V381.93h3.39V429.10zM122.86,429.10V394.24h3.39V429.10zM126.13,429.10V381.93h3.39V429.10zM129.41,429.10V405.31h3.39V429.10zM132.68,429.10V395.47h3.39V429.10zM135.95,429.10V389.31h3.39V429.10zM139.22,429.10V377.01h3.39V429.10zM142.50,429.10V304.39h3.39V429.10zM145.77,429.10V353.62h3.39V429.10zM149.04,429.10V356.08h3.39V429.10zM152.31,429.10V388.08h3.39V429.10zM155.58,429.10V413.93h3.39V429.10zM158.86,429.10V416.39h3.39V429.10zM162.13,429.10V401.62h3.39V429.10zM165.40,429.10V377.01h3.39V429.10zM168.67,429.10V418.85h3.39V429.10zM171.94,429.10V362.24h3.39V429.10zM175.22,429.10V401.62h3.39V429.10zM178.49,429.10V409.01h3.39V429.10zM181.76,429.10V396.70h3.39V429.10zM185.03,429.10V410.24h3.39V429.10zM188.30,429.10V395.47h3.39V429.10zM191.58,429.10V411.47h3.39V429.10zM194.85,429.10V418.85h3.39V429.10zM198.12,429.10V423.78h3.39V429.10zM201.39,429.10V395.47h3.39V429.10zM204.66,429.10V420.08h3.39V429.10zM207.94,429.10V413.93h3.39V429.10zM211.21,429.10V410.24h3.39V429.10zM214.48,429.10V405.31h3.39V429.10zM217.75,429.10V399.16h3.39V429.10zM221.02,429.10V425.01h3.39V429.10zM224.30,429.10V417.62h3.39V429.10zM227.57,429.10V413.93h3.39V429.10zM230.84,429.10V417.62h3.39V429.10zM234.11,429.10V417.62h3.39V429.10zM237.38,429.10V417.62h3.39V429.10zM240.66,429.10V427.47h3.39V429.10zM243.93,429.10V420.08h3.39V429.10zM247.20,429.10V427.47h3.39V429.10zM250.47,429.10V423.78h3.39V429.10zM253.74,429.10V422.55h3.39V429.10zM257.02,429.10V423.78h3.39V429.10zM263.56,429.10V426.24h3.39V429.10zM266.83,429.10V425.01h3.39V429.10zM270.10,429.10V427.47h3.39V429.10zM273.38,429.10V426.24h3.39V429.10zM276.65,429.10V426.24h3.39V429.10zM279.92,429.10V427.47h3.39V429.10zM283.19,429.10V426.24h3.39V429.10zM286.47,429.10V426.24h3.39V429.10zM289.74,429.10V426.24h3.39V429.10zM293.01,429.10V425.01h3.39V429.10zM296.28,429.10V426.24h3.39V429.10zM299.55,429.10V426.24h3.39V429.10zM302.83,429.10V427.47h3.39V429.10zM306.10,429.10V420.08h3.39V429.10zM315.91,429.10V426.24h3.39V429.10zM319.19,429.10V426.24h3.39V429.10zM325.73,429.10V427.47h3.39V429.10zM332.27,429.10V427.47h3.39V429.10zM371.54,429.10V427.47h3.39V429.10zM391.17,429.10V426.24h3.39V429.10zM397.71,429.10V427.47h3.39V429.10zM414.07,429.10V426.24h3.39V429.10zM420.62,429.10V425.01h3.39V429.10zM423.89,429.10V421.32h3.39V429.10zM427.16,429.10V427.47h3.39V429.10zM430.44,429.10V427.47h3.39V429.10zM440.25,429.10V425.01h3.39V429.10zM443.52,429.10V427.47h3.39V429.10zM453.34,429.10V427.47h3.39V429.10zM489.33,429.10V427.47h3.39V429.10zM492.60,429.10V395.47h3.39V429.10zM502.42,429.10V426.24h3.39V429.10zM505.69,429.10V418.85h3.39V429.10zM508.96,429.10V422.55h3.39V429.10zM512.24,429.10V420.08h3.39V429.10zM515.51,429.10V427.47h3.39V429.10zM525.32,429.10V425.01h3.39V429.10zM528.60,429.10V426.24h3.39V429.10zM531.87,429.10V427.47h3.39V429.10zM535.14,429.10V427.47h3.39V429.10zM544.96,429.10V423.78h3.39V429.10zM548.23,429.10V426.24h3.39V429.10zM551.50,429.10V421.32h3.39V429.10zM554.77,429.10V425.01h3.39V429.10zM558.04,429.10V426.24h3.39V429.10zM561.32,429.10V427.47h3.39V429.10zM567.86,429.10V427.47h3.39V429.10zM571.13,429.10V427.47h3.39V429.10zM574.41,429.10V427.47h3.39V429.10zM577.68,429.10V421.32h3.39V429.10zM580.95,429.10V425.01h3.39V429.10zM587.49,429.10V426.24h3.39V429.10zM590.77,429.10V416.39h3.39V429.10zM594.04,429.10V423.78h3.39V429.10zM597.31,429.10V415.16h3.39V429.10zM600.58,429.10V406.55h3.39V429.10zM603.85,429.10V417.62h3.39V429.10zM607.13,429.10V425.01h3.39V429.10zM610.40,429.10V425.01h3.39V429.10zM613.67,429.10V423.78h3.39V429.10zM616.94,429.10V417.62h3.39V429.10zM620.21,429.10V417.62h3.39V429.10zM623.49,429.10V427.47h3.39V429.10zM626.76,429.10V416.39h3.39V429.10zM630.03,429.10V418.85h3.39V429.10zM633.30,429.10V427.47h3.39V429.10zM636.57,429.10V418.85h3.39V429.10zM639.85,429.10V418.85h3.39V429.10zM643.12,429.10V420.08h3.39V429.10zM646.39,429.10V416.39h3.39V429.10zM649.66,429.10V416.39h3.39V429.10zM652.93,429.10V388.08h3.39V429.10zM656.21,429.10V412.70h3.39V429.10zM659.48,429.10V402.85h3.39V429.10zM662.75,429.10V390.55h3.39V429.10zM666.02,429.10V413.93h3.39V429.10zM669.29,429.10V406.55h3.39V429.10zM672.57,429.10V406.55h3.39V429.10zM675.84,429.10V396.70h3.39V429.10zM679.11,429.10V407.78h3.39V429.10zM682.38,429.10V418.85h3.39V429.10zM685.65,429.10V406.55h3.39V429.10zM688.93,429.10V418.85h3.39V429.10zM692.20,429.10V418.85h3.39V429.10zM695.47,429.10V407.78h3.39V429.10zM698.74,429.10V412.70h3.39V429.10zM702.01,429.10V425.01h3.39V429.10zM705.29,429.10V425.01h3.39V429.10zM708.56,429.10V406.55h3.39V429.10zM711.83,429.10V410.24h3.39V429.10zM715.10,429.10V395.47h3.39V429.10zM718.38,429.10V397.93h3.39V429.10zM721.65,429.10V402.85h3.39V429.10zM724.92,429.10V413.93h3.39V429.10zM728.19,429.10V400.39h3.39V429.10zM731.46,429.10V406.55h3.39V429.10zM734.74,429.10V418.85h3.39V429.10zM738.01,429.10V417.62h3.39V429.10zM741.28,429.10V410.24h3.39V429.10zM744.55,429.10V390.55h3.39V429.10zM747.82,429.10V423.78h3.39V429.10zM751.10,429.10V417.62h3.39V429.10zM754.37,429.10V407.78h3.39V429.10zM757.64,429.10V407.78h3.39V429.10zM760.91,429.10V406.55h3.39V429.10zM764.18,429.10V400.39h3.39V429.10zM767.46,429.10V406.55h3.39V429.10zM770.73,429.10V400.39h3.39V429.10z" fill="#10235f"/>
<line x1="54.75" y1="429.1" x2="774.0" y2="429.1" stroke="#9a9a9a" stroke-width="0.7"/>
<text transform="translate(53.09,434.0) rotate(90)" font-family="'Liberation Sans', sans-serif" font-size="6.4" textLength="11.80" lengthAdjust="spacingAndGlyphs" fill="#454545" fill-opacity="0.9">29/2</text>
<line x1="54.15" y1="429.1" x2="54.15" y2="430.90000000000003" stroke="#9a9a9a" stroke-width="0.5"/>
<text transform="translate(59.63,434.0) rotate(90)" font-family="'Liberation Sans', sans-serif" font-size="6.4" textLength="8.85" lengthAdjust="spacingAndGlyphs" fill="#454545" fill-opacity="0.9">2/3</text>
<line x1="60.69" y1="429.1" x2="60.69" y2="430.90000000000003" stroke="#9a9a9a" stroke-width="0.5"/>
<text transform="translate(66.17,434.0) rotate(90)" font-family="'Liberation Sans', sans-serif" font-size="6.4" textLength="8.85" lengthAdjust="spacingAndGlyphs" fill="#454545" fill-opacity="0.9">4/3</text>
<line x1="67.24" y1="429.1" x2="67.24" y2="430.90000000000003" stroke="#9a9a9a" stroke-width="0.5"/>
<text transform="translate(72.72,434.0) rotate(90)" font-family="'Liberation Sans', sans-serif" font-size="6.4" textLength="8.85" lengthAdjust="spacingAndGlyphs" fill="#454545" fill-opacity="0.9">6/3</text>
<line x1="73.78" y1="429.1" x2="73.78" y2="430.90000000000003" stroke="#9a9a9a" stroke-width="0.5"/>
<text transform="translate(79.26,434.0) rotate(90)" font-family="'Liberation Sans', sans-serif" font-size="6.4" textLength="8.85" lengthAdjust="spacingAndGlyphs" fill="#454545" fill-opacity="0.9">8/3</text>
<line x1="80.33" y1="429.1" x2="80.33" y2="430.90000000000003" stroke="#9a9a9a" stroke-width="0.5"/>
<text transform="translate(85.81,434.0) rotate(90)" font-family="'Liberation Sans', sans-serif" font-size="6.4" textLength="11.80" lengthAdjust="spacingAndGlyphs" fill="#454545" fill-opacity="0.9">10/3</text>
<line x1="86.87" y1="429.1" x2="86.87" y2="430.90000000000003" stroke="#9a9a9a" stroke-width="0.5"/>
<text transform="translate(92.35,434.0) rotate(90)" font-family="'Liberation Sans', sans-serif" font-size="6.4" textLength="11.80" lengthAdjust="spacingAndGlyphs" fill="#454545" fill-opacity="0.9">12/3</text>
<line x1="93.41" y1="429.1" x2="93.41" y2="430.90000000000003" stroke="#9a9a9a" stroke-width="0.5"/>
<text transform="translate(98.89,434.0) rotate(90)" font-family="'Liberation Sans', sans-serif" font-size="6.4" textLength="11.80" lengthAdjust="spacingAndGlyphs" fill="#454545" fill-opacity="0.9">14/3</text>
<line x1="99.96" y1="429.1" x2="99.96" y2="430.90000000000003" stroke="#9a9a9a" stroke-width="0.5"/>
<text transform="translate(105.44,434.0) rotate(90)" font-family="'Liberation Sans', sans-serif" font-size="6.4" textLength="11.80" lengthAdjust="spacingAndGlyphs" fill="#454545" fill-opacity="0.9">16/3</text>
<line x1="106.50" y1="429.1" x2="106.50" y2="430.90000000000003" stroke="#9a9a9a" stroke-width="0.5"/>
<text transform="translate(111.98,434.0) rotate(90)" font-family="'Liberation Sans', sans-serif" font-size="6.4" textLength="11.80" lengthAdjust="spacingAndGlyphs" fill="#454545" fill-opacity="0.9">18/3</text>
<line x1="113.05" y1="429.1" x2="113.05" y2="430.90000000000003" stroke="#9a9a9a" stroke-width="0.5"/>
<text transform="translate(118.53,434.0) rotate(90)" font-family="'Liberation Sans', sans-serif" font-size="6.4" textLength="11.80" lengthAdjust="spacingAndGlyphs" fill="#454545" fill-opacity="0.9">20/3</text>
<line x1="119.59" y1="429.1" x2="119.59" y2="430.90000000000003" stroke="#9a9a9a" stroke-width="0.5"/>
<text transform="translate(125.07,434.0) rotate(90)" font-family="'Liberation Sans', sans-serif" font-size="6.4" textLength="11.80" lengthAdjust="spacingAndGlyphs" fill="#454545" fill-opacity="0.9">22/3</text>
<line x1="126.13" y1="429.1" x2="126.13" y2="430.90000000000003" stroke="#9a9a9a" stroke-width="0.5"/>
<text transform="translate(131.62,434.0) rotate(90)" font-family="'Liberation Sans', sans-serif" font-size="6.4" textLength="11.80" lengthAdjust="spacingAndGlyphs" fill="#454545" fill-opacity="0.9">24/3</text>
<line x1="132.68" y1="429.1" x2="132.68" y2="430.90000000000003" stroke="#9a9a9a" stroke-width="0.5"/>
<text transform="translate(138.16,434.0) rotate(90)" font-family="'Liberation Sans', sans-serif" font-size="6.4" textLength="11.80" lengthAdjust="spacingAndGlyphs" fill="#454545" fill-opacity="0.9">26/3</text>
<line x1="139.22" y1="429.1" x2="139.22" y2="430.90000000000003" stroke="#9a9a9a" stroke-width="0.5"/>
<text transform="translate(144.70,434.0) rotate(90)" font-family="'Liberation Sans', sans-serif" font-size="6.4" textLength="11.80" lengthAdjust="spacingAndGlyphs" fill="#454545" fill-opacity="0.9">28/3</text>
<line x1="145.77" y1="429.1" x2="145.77" y2="430.90000000000003" stroke="#9a9a9a" stroke-width="0.5"/>
<text transform="translate(151.25,434.0) rotate(90)" font-family="'Liberation Sans', sans-serif" font-size="6.4" textLength="11.80" lengthAdjust="spacingAndGlyphs" fill="#454545" fill-opacity="0.9">30/3</text>
<line x1="152.31" y1="429.1" x2="152.31" y2="430.90000000000003" stroke="#9a9a9a" stroke-width="0.5"/>
<text transform="translate(157.79,434.0) rotate(90)" font-family="'Liberation Sans', sans-serif" font-size="6.4" textLength="8.85" lengthAdjust="spacingAndGlyphs" fill="#454545" fill-opacity="0.9">1/4</text>
<line x1="158.86" y1="429.1" x2="158.86" y2="430.90000000000003" stroke="#9a9a9a" stroke-width="0.5"/>
<text transform="translate(164.34,434.0) rotate(90)" font-family="'Liberation Sans', sans-serif" font-size="6.4" textLength="8.85" lengthAdjust="spacingAndGlyphs" fill="#454545" fill-opacity="0.9">3/4</text>
<line x1="165.40" y1="429.1" x2="165.40" y2="430.90000000000003" stroke="#9a9a9a" stroke-width="0.5"/>
<text transform="translate(170.88,434.0) rotate(90)" font-family="'Liberation Sans', sans-serif" font-size="6.4" textLength="8.85" lengthAdjust="spacingAndGlyphs" fill="#454545" fill-opacity="0.9">5/4</text>
<line x1="171.94" y1="429.1" x2="171.94" y2="430.90000000000003" stroke="#9a9a9a" stroke-width="0.5"/>
<text transform="translate(177.42,434.0) rotate(90)" font-family="'Liberation Sans', sans-serif" font-size="6.4" textLength="8.85" lengthAdjust="spacingAndGlyphs" fill="#454545" fill-opacity="0.9">7/4</text>
<line x1="178.49" y1="429.1" x2="178.49" y2="430.90000000000003" stroke="#9a9a9a" stroke-width="0.5"/>
<text transform="translate(183.97,434.0) rotate(90)" font-family="'Liberation Sans', sans-serif" font-size="6.4" textLength="8.85" lengthAdjust="spacingAndGlyphs" fill="#454545" fill-opacity="0.9">9/4</text>
<line x1="185.03" y1="429.1" x2="185.03" y2="430.90000000000003" stroke="#9a9a9a" stroke-width="0.5"/>
<text transform="translate(190.51,434.0) rotate(90)" font-family="'Liberation Sans', sans-serif" font-size="6.4" textLength="11.80" lengthAdjust="spacingAndGlyphs" fill="#454545" fill-opacity="0.9">11/4</text>
<line x1="191.58" y1="429.1" x2="191.58" y2="430.90000000000003" stroke="#9a9a9a" stroke-width="0.5"/>
<text transform="translate(197.06,434.0) rotate(90)" font-family="'Liberation Sans', sans-serif" font-size="6.4" textLength="11.80" lengthAdjust="spacingAndGlyphs" fill="#454545" fill-opacity="0.9">13/4</text>
<line x1="198.12" y1="429.1" x2="198.12" y2="430.90000000000003" stroke="#9a9a9a" stroke-width="0.5"/>
<text transform="translate(203.60,434.0) rotate(90)" font-family="'Liberation Sans', sans-serif" font-size="6.4" textLength="11.80" lengthAdjust="spacingAndGlyphs" fill="#454545" fill-opacity="0.9">15/4</text>
<line x1="204.66" y1="429.1" x2="204.66" y2="430.90000000000003" stroke="#9a9a9a" stroke-width="0.5"/>
<text transform="translate(210.14,434.0) rotate(90)" font-family="'Liberation Sans', sans-serif" font-size="6.4" textLength="11.80" lengthAdjust="spacingAndGlyphs" fill="#454545" fill-opacity="0.9">17/4</text>
<line x1="211.21" y1="429.1" x2="211.21" y2="430.90000000000003" stroke="#9a9a9a" stroke-width="0.5"/>
<text transform="translate(216.69,434.0) rotate(90)" font-family="'Liberation Sans', sans-serif" font-size="6.4" textLength="11.80" lengthAdjust="spacingAndGlyphs" fill="#454545" fill-opacity="0.9">19/4</text>
<line x1="217.75" y1="429.1" x2="217.75" y2="430.90000000000003" stroke="#9a9a9a" stroke-width="0.5"/>
<text transform="translate(223.23,434.0) rotate(90)" font-family="'Liberation Sans', sans-serif" font-size="6.4" textLength="11.80" lengthAdjust="spacingAndGlyphs" fill="#454545" fill-opacity="0.9">21/4</text>
<line x1="224.30" y1="429.1" x2="224.30" y2="430.90000000000003" stroke="#9a9a9a" stroke-width="0.5"/>
<text transform="translate(229.78,434.0) rotate(90)" font-family="'Liberation Sans', sans-serif" font-size="6.4" textLength="11.80" lengthAdjust="spacingAndGlyphs" fill="#454545" fill-opacity="0.9">23/4</text>
<line x1="230.84" y1="429.1" x2="230.84" y2="430.90000000000003" stroke="#9a9a9a" stroke-width="0.5"/>
<text transform="translate(236.32,434.0) rotate(90)" font-family="'Liberation Sans', sans-serif" font-size="6.4" textLength="11.80" lengthAdjust="spacingAndGlyphs" fill="#454545" fill-opacity="0.9">25/4</text>
<line x1="237.38" y1="429.1" x2="237.38" y2="430.90000000000003" stroke="#9a9a9a" stroke-width="0.5"/>
<text transform="translate(242.86,434.0) rotate(90)" font-family="'Liberation Sans', sans-serif" font-size="6.4" textLength="11.80" lengthAdjust="spacingAndGlyphs" fill="#454545" fill-opacity="0.9">27/4</text>
<line x1="243.93" y1="429.1" x2="243.93" y2="430.90000000000003" stroke="#9a9a9a" stroke-width="0.5"/>
<text transform="translate(249.41,434.0) rotate(90)" font-family="'Liberation Sans', sans-serif" font-size="6.4" textLength="11.80" lengthAdjust="spacingAndGlyphs" fill="#454545" fill-opacity="0.9">29/4</text>
<line x1="250.47" y1="429.1" x2="250.47" y2="430.90000000000003" stroke="#9a9a9a" stroke-width="0.5"/>
<text transform="translate(255.95,434.0) rotate(90)" font-family="'Liberation Sans', sans-serif" font-size="6.4" textLength="8.85" lengthAdjust="spacingAndGlyphs" fill="#454545" fill-opacity="0.9">1/5</text>
<line x1="257.02" y1="429.1" x2="257.02" y2="430.90000000000003" stroke="#9a9a9a" stroke-width="0.5"/>
<text transform="translate(262.50,434.0) rotate(90)" font-family="'Liberation Sans', sans-serif" font-size="6.4" textLength="8.85" lengthAdjust="spacingAndGlyphs" fill="#454545" fill-opacity="0.9">3/5</text>
<line x1="263.56" y1="429.1" x2="263.56" y2="430.90000000000003" stroke="#9a9a9a" stroke-width="0.5"/>
<text transform="translate(269.04,434.0) rotate(90)" font-family="'Liberation Sans', sans-serif" font-size="6.4" textLength="8.85" lengthAdjust="spacingAndGlyphs" fill="#454545" fill-opacity="0.9">5/5</text>
<line x1="270.10" y1="429.1" x2="270.10" y2="430.90000000000003" stroke="#9a9a9a" stroke-width="0.5"/>
<text transform="translate(275.59,434.0) rotate(90)" font-family="'Liberation Sans', sans-serif" font-size="6.4" textLength="8.85" lengthAdjust="spacingAndGlyphs" fill="#454545" fill-opacity="0.9">7/5</text>
<line x1="276.65" y1="429.1" x2="276.65" y2="430.90000000000003" stroke="#9a9a9a" stroke-width="0.5"/>
<text transform="translate(282.13,434.0) rotate(90)" font-family="'Liberation Sans', sans-serif" font-size="6.4" textLength="8.85" lengthAdjust="spacingAndGlyphs" fill="#454545" fill-opacity="0.9">9/5</text>
<line x1="283.19" y1="429.1" x2="283.19" y2="430.90000000000003" stroke="#9a9a9a" stroke-width="0.5"/>
<text transform="translate(288.67,434.0) rotate(90)" font-family="'Liberation Sans', sans-serif" font-size="6.4" textLength="11.80" lengthAdjust="spacingAndGlyphs" fill="#454545" fill-opacity="0.9">11/5</text>
<line x1="289.74" y1="429.1" x2="289.74" y2="430.90000000000003" stroke="#9a9a9a" stroke-width="0.5"/>
<text transform="translate(295.22,434.0) rotate(90)" font-family="'Liberation Sans', sans-serif" font-size="6.4" textLength="11.80" lengthAdjust="spacingAndGlyphs" fill="#454545" fill-opacity="0.9">13/5</text>
<line x1="296.28" y1="429.1" x2="296.28" y2="430.90000000000003" stroke="#9a9a9a" stroke-width="0.5"/>
<text transform="translate(301.76,434.0) rotate(90)" font-family="'Liberation Sans', sans-serif" font-size="6.4" textLength="11.80" lengthAdjust="spacingAndGlyphs" fill="#454545" fill-opacity="0.9">15/5</text>
<line x1="302.83" y1="429.1" x2="302.83" y2="430.90000000000003" stroke="#9a9a9a" stroke-width="0.5"/>
<text transform="translate(308.31,434.0) rotate(90)" font-family="'Liberation Sans', sans-serif" font-size="6.4" textLength="11.80" lengthAdjust="spacingAndGlyphs" fill="#454545" fill-opacity="0.9">17/5</text>
<line x1="309.37" y1="429.1" x2="309.37" y2="430.90000000000003" stroke="#9a9a9a" stroke-width="0.5"/>
<text transform="translate(314.85,434.0) rotate(90)" font-family="'Liberation Sans', sans-serif" font-size="6.4" textLength="11.80" lengthAdjust="spacingAndGlyphs" fill="#454545" fill-opacity="0.9">19/5</text>
<line x1="315.91" y1="429.1" x2="315.91" y2="430.90000000000003" stroke="#9a9a9a" stroke-width="0.5"/>
<text transform="translate(321.39,434.0) rotate(90)" font-family="'Liberation Sans', sans-serif" font-size="6.4" textLength="11.80" lengthAdjust="spacingAndGlyphs" fill="#454545" fill-opacity="0.9">21/5</text>
<line x1="322.46" y1="429.1" x2="322.46" y2="430.90000000000003" stroke="#9a9a9a" stroke-width="0.5"/>
<text transform="translate(327.94,434.0) rotate(90)" font-family="'Liberation Sans', sans-serif" font-size="6.4" textLength="11.80" lengthAdjust="spacingAndGlyphs" fill="#454545" fill-opacity="0.9">23/5</text>
<line x1="329.00" y1="429.1" x2="329.00" y2="430.90000000000003" stroke="#9a9a9a" stroke-width="0.5"/>
<text transform="translate(334.48,434.0) rotate(90)" font-family="'Liberation Sans', sans-serif" font-size="6.4" textLength="11.80" lengthAdjust="spacingAndGlyphs" fill="#454545" fill-opacity="0.9">25/5</text>
<line x1="335.55" y1="429.1" x2="335.55" y2="430.90000000000003" stroke="#9a9a9a" stroke-width="0.5"/>
<text transform="translate(341.03,434.0) rotate(90)" font-family="'Liberation Sans', sans-serif" font-size="6.4" textLength="11.80" lengthAdjust="spacingAndGlyphs" fill="#454545" fill-opacity="0.9">27/5</text>
<line x1="342.09" y1="429.1" x2="342.09" y2="430.90000000000003" stroke="#9a9a9a" stroke-width="0.5"/>
<text transform="translate(347.57,434.0) rotate(90)" font-family="'Liberation Sans', sans-serif" font-size="6.4" textLength="11.80" lengthAdjust="spacingAndGlyphs" fill="#454545" fill-opacity="0.9">29/5</text>
<line x1="348.63" y1="429.1" x2="348.63" y2="430.90000000000003" stroke="#9a9a9a" stroke-width="0.5"/>
<text transform="translate(354.11,434.0) rotate(90)" font-family="'Liberation Sans', sans-serif" font-size="6.4" textLength="11.80" lengthAdjust="spacingAndGlyphs" fill="#454545" fill-opacity="0.9">31/5</text>
<line x1="355.18" y1="429.1" x2="355.18" y2="430.90000000000003" stroke="#9a9a9a" stroke-width="0.5"/>
<text transform="translate(360.66,434.0) rotate(90)" font-family="'Liberation Sans', sans-serif" font-size="6.4" textLength="8.85" lengthAdjust="spacingAndGlyphs" fill="#454545" fill-opacity="0.9">2/6</text>
<line x1="361.72" y1="429.1" x2="361.72" y2="430.90000000000003" stroke="#9a9a9a" stroke-width="0.5"/>
<text transform="translate(367.20,434.0) rotate(90)" font-family="'Liberation Sans', sans-serif" font-size="6.4" textLength="8.85" lengthAdjust="spacingAndGlyphs" fill="#454545" fill-opacity="0.9">4/6</text>
<line x1="368.27" y1="429.1" x2="368.27" y2="430.90000000000003" stroke="#9a9a9a" stroke-width="0.5"/>
<text transform="translate(373.75,434.0) rotate(90)" font-family="'Liberation Sans', sans-serif" font-size="6.4" textLength="8.85" lengthAdjust="spacingAndGlyphs" fill="#454545" fill-opacity="0.9">6/6</text>
<line x1="374.81" y1="429.1" x2="374.81" y2="430.90000000000003" stroke="#9a9a9a" stroke-width="0.5"/>
<text transform="translate(380.29,434.0) rotate(90)" font-family="'Liberation Sans', sans-serif" font-size="6.4" textLength="8.85" lengthAdjust="spacingAndGlyphs" fill="#454545" fill-opacity="0.9">8/6</text>
<line x1="381.35" y1="429.1" x2="381.35" y2="430.90000000000003" stroke="#9a9a9a" stroke-width="0.5"/>
<text transform="translate(386.83,434.0) rotate(90)" font-family="'Liberation Sans', sans-serif" font-size="6.4" textLength="11.80" lengthAdjust="spacingAndGlyphs" fill="#454545" fill-opacity="0.9">10/6</text>
<line x1="387.90" y1="429.1" x2="387.90" y2="430.90000000000003" stroke="#9a9a9a" stroke-width="0.5"/>
<text transform="translate(393.38,434.0) rotate(90)" font-family="'Liberation Sans', sans-serif" font-size="6.4" textLength="11.80" lengthAdjust="spacingAndGlyphs" fill="#454545" fill-opacity="0.9">12/6</text>
<line x1="394.44" y1="429.1" x2="394.44" y2="430.90000000000003" stroke="#9a9a9a" stroke-width="0.5"/>
<text transform="translate(399.92,434.0) rotate(90)" font-family="'Liberation Sans', sans-serif" font-size="6.4" textLength="11.80" lengthAdjust="spacingAndGlyphs" fill="#454545" fill-opacity="0.9">14/6</text>
<line x1="400.99" y1="429.1" x2="400.99" y2="430.90000000000003" stroke="#9a9a9a" stroke-width="0.5"/>
<text transform="translate(406.47,434.0) rotate(90)" font-family="'Liberation Sans', sans-serif" font-size="6.4" textLength="11.80" lengthAdjust="spacingAndGlyphs" fill="#454545" fill-opacity="0.9">16/6</text>
<line x1="407.53" y1="429.1" x2="407.53" y2="430.90000000000003" stroke="#9a9a9a" stroke-width="0.5"/>
<text transform="translate(413.01,434.0) rotate(90)" font-family="'Liberation Sans', sans-serif" font-size="6.4" textLength="11.80" lengthAdjust="spacingAndGlyphs" fill="#454545" fill-opacity="0.9">18/6</text>
<line x1="414.07" y1="429.1" x2="414.07" y2="430.90000000000003" stroke="#9a9a9a" stroke-width="0.5"/>
<text transform="translate(419.56,434.0) rotate(90)" font-family="'Liberation Sans', sans-serif" font-size="6.4" textLength="11.80" lengthAdjust="spacingAndGlyphs" fill="#454545" fill-opacity="0.9">20/6</text>
<line x1="420.62" y1="429.1" x2="420.62" y2="430.90000000000003" stroke="#9a9a9a" stroke-width="0.5"/>
<text transform="translate(426.10,434.0) rotate(90)" font-family="'Liberation Sans', sans-serif" font-size="6.4" textLength="11.80" lengthAdjust="spacingAndGlyphs" fill="#454545" fill-opacity="0.9">22/6</text>
<line x1="427.16" y1="429.1" x2="427.16" y2="430.90000000000003" stroke="#9a9a9a" stroke-width="0.5"/>
<text transform="translate(432.64,434.0) rotate(90)" font-family="'Liberation Sans', sans-serif" font-size="6.4" textLength="11.80" lengthAdjust="spacingAndGlyphs" fill="#454545" fill-opacity="0.9">24/6</text>
<line x1="433.71" y1="429.1" x2="433.71" y2="430.90000000000003" stroke="#9a9a9a" stroke-width="0.5"/>
<text transform="translate(439.19,434.0) rotate(90)" font-family="'Liberation Sans', sans-serif" font-size="6.4" textLength="11.80" lengthAdjust="spacingAndGlyphs" fill="#454545" fill-opacity="0.9">26/6</text>
<line x1="440.25" y1="429.1" x2="440.25" y2="430.90000000000003" stroke="#9a9a9a" stroke-width="0.5"/>
<text transform="translate(445.73,434.0) rotate(90)" font-family="'Liberation Sans', sans-serif" font-size="6.4" textLength="11.80" lengthAdjust="spacingAndGlyphs" fill="#454545" fill-opacity="0.9">28/6</text>
<line x1="446.80" y1="429.1" x2="446.80" y2="430.90000000000003" stroke="#9a9a9a" stroke-width="0.5"/>
<text transform="translate(452.28,434.0) rotate(90)" font-family="'Liberation Sans', sans-serif" font-size="6.4" textLength="11.80" lengthAdjust="spacingAndGlyphs" fill="#454545" fill-opacity="0.9">30/6</text>
<line x1="453.34" y1="429.1" x2="453.34" y2="430.90000000000003" stroke="#9a9a9a" stroke-width="0.5"/>
<text transform="translate(458.82,434.0) rotate(90)" font-family="'Liberation Sans', sans-serif" font-size="6.4" textLength="8.85" lengthAdjust="spacingAndGlyphs" fill="#454545" fill-opacity="0.9">2/7</text>
<line x1="459.88" y1="429.1" x2="459.88" y2="430.90000000000003" stroke="#9a9a9a" stroke-width="0.5"/>
<text transform="translate(465.36,434.0) rotate(90)" font-family="'Liberation Sans', sans-serif" font-size="6.4" textLength="8.85" lengthAdjust="spacingAndGlyphs" fill="#454545" fill-opacity="0.9">4/7</text>
<line x1="466.43" y1="429.1" x2="466.43" y2="430.90000000000003" stroke="#9a9a9a" stroke-width="0.5"/>
<text transform="translate(471.91,434.0) rotate(90)" font-family="'Liberation Sans', sans-serif" font-size="6.4" textLength="8.85" lengthAdjust="spacingAndGlyphs" fill="#454545" fill-opacity="0.9">6/7</text>
<line x1="472.97" y1="429.1" x2="472.97" y2="430.90000000000003" stroke="#9a9a9a" stroke-width="0.5"/>
<text transform="translate(478.45,434.0) rotate(90)" font-family="'Liberation Sans', sans-serif" font-size="6.4" textLength="8.85" lengthAdjust="spacingAndGlyphs" fill="#454545" fill-opacity="0.9">8/7</text>
<line x1="479.52" y1="429.1" x2="479.52" y2="430.90000000000003" stroke="#9a9a9a" stroke-width="0.5"/>
<text transform="translate(485.00,434.0) rotate(90)" font-family="'Liberation Sans', sans-serif" font-size="6.4" textLength="11.80" lengthAdjust="spacingAndGlyphs" fill="#454545" fill-opacity="0.9">10/7</text>
<line x1="486.06" y1="429.1" x2="486.06" y2="430.90000000000003" stroke="#9a9a9a" stroke-width="0.5"/>
<text transform="translate(491.54,434.0) rotate(90)" font-family="'Liberation Sans', sans-serif" font-size="6.4" textLength="11.80" lengthAdjust="spacingAndGlyphs" fill="#454545" fill-opacity="0.9">12/7</text>
<line x1="492.60" y1="429.1" x2="492.60" y2="430.90000000000003" stroke="#9a9a9a" stroke-width="0.5"/>
<text transform="translate(498.08,434.0) rotate(90)" font-family="'Liberation Sans', sans-serif" font-size="6.4" textLength="11.80" lengthAdjust="spacingAndGlyphs" fill="#454545" fill-opacity="0.9">14/7</text>
<line x1="499.15" y1="429.1" x2="499.15" y2="430.90000000000003" stroke="#9a9a9a" stroke-width="0.5"/>
<text transform="translate(504.63,434.0) rotate(90)" font-family="'Liberation Sans', sans-serif" font-size="6.4" textLength="11.80" lengthAdjust="spacingAndGlyphs" fill="#454545" fill-opacity="0.9">16/7</text>
<line x1="505.69" y1="429.1" x2="505.69" y2="430.90000000000003" stroke="#9a9a9a" stroke-width="0.5"/>
<text transform="translate(511.17,434.0) rotate(90)" font-family="'Liberation Sans', sans-serif" font-size="6.4" textLength="11.80" lengthAdjust="spacingAndGlyphs" fill="#454545" fill-opacity="0.9">18/7</text>
<line x1="512.24" y1="429.1" x2="512.24" y2="430.90000000000003" stroke="#9a9a9a" stroke-width="0.5"/>
<text transform="translate(517.72,434.0) rotate(90)" font-family="'Liberation Sans', sans-serif" font-size="6.4" textLength="11.80" lengthAdjust="spacingAndGlyphs" fill="#454545" fill-opacity="0.9">20/7</text>
<line x1="518.78" y1="429.1" x2="518.78" y2="430.90000000000003" stroke="#9a9a9a" stroke-width="0.5"/>
<text transform="translate(524.26,434.0) rotate(90)" font-family="'Liberation Sans', sans-serif" font-size="6.4" textLength="11.80" lengthAdjust="spacingAndGlyphs" fill="#454545" fill-opacity="0.9">22/7</text>
<line x1="525.32" y1="429.1" x2="525.32" y2="430.90000000000003" stroke="#9a9a9a" stroke-width="0.5"/>
<text transform="translate(530.80,434.0) rotate(90)" font-family="'Liberation Sans', sans-serif" font-size="6.4" textLength="11.80" lengthAdjust="spacingAndGlyphs" fill="#454545" fill-opacity="0.9">24/7</text>
<line x1="531.87" y1="429.1" x2="531.87" y2="430.90000000000003" stroke="#9a9a9a" stroke-width="0.5"/>
<text transform="translate(537.35,434.0) rotate(90)" font-family="'Liberation Sans', sans-serif" font-size="6.4" textLength="11.80" lengthAdjust="spacingAndGlyphs" fill="#454545" fill-opacity="0.9">26/7</text>
<line x1="538.41" y1="429.1" x2="538.41" y2="430.90000000000003" stroke="#9a9a9a" stroke-width="0.5"/>
<text transform="translate(543.89,434.0) rotate(90)" font-family="'Liberation Sans', sans-serif" font-size="6.4" textLength="11.80" lengthAdjust="spacingAndGlyphs" fill="#454545" fill-opacity="0.9">28/7</text>
<line x1="544.96" y1="429.1" x2="544.96" y2="430.90000000000003" stroke="#9a9a9a" stroke-width="0.5"/>
<text transform="translate(550.44,434.0) rotate(90)" font-family="'Liberation Sans', sans-serif" font-size="6.4" textLength="11.80" lengthAdjust="spacingAndGlyphs" fill="#454545" fill-opacity="0.9">30/7</text>
<line x1="551.50" y1="429.1" x2="551.50" y2="430.90000000000003" stroke="#9a9a9a" stroke-width="0.5"/>
<text transform="translate(556.98,434.0) rotate(90)" font-family="'Liberation Sans', sans-serif" font-size="6.4" textLength="8.85" lengthAdjust="spacingAndGlyphs" fill="#454545" fill-opacity="0.9">1/8</text>
<line x1="558.04" y1="429.1" x2="558.04" y2="430.90000000000003" stroke="#9a9a9a" stroke-width="0.5"/>
<text transform="translate(563.53,434.0) rotate(90)" font-family="'Liberation Sans', sans-serif" font-size="6.4" textLength="8.85" lengthAdjust="spacingAndGlyphs" fill="#454545" fill-opacity="0.9">3/8</text>
<line x1="564.59" y1="429.1" x2="564.59" y2="430.90000000000003" stroke="#9a9a9a" stroke-width="0.5"/>
<text transform="translate(570.07,434.0) rotate(90)" font-family="'Liberation Sans', sans-serif" font-size="6.4" textLength="8.85" lengthAdjust="spacingAndGlyphs" fill="#454545" fill-opacity="0.9">5/8</text>
<line x1="571.13" y1="429.1" x2="571.13" y2="430.90000000000003" stroke="#9a9a9a" stroke-width="0.5"/>
<text transform="translate(576.61,434.0) rotate(90)" font-family="'Liberation Sans', sans-serif" font-size="6.4" textLength="8.85" lengthAdjust="spacingAndGlyphs" fill="#454545" fill-opacity="0.9">7/8</text>
<line x1="577.68" y1="429.1" x2="577.68" y2="430.90000000000003" stroke="#9a9a9a" stroke-width="0.5"/>
<text transform="translate(583.16,434.0) rotate(90)" font-family="'Liberation Sans', sans-serif" font-size="6.4" textLength="8.85" lengthAdjust="spacingAndGlyphs" fill="#454545" fill-opacity="0.9">9/8</text>
<line x1="584.22" y1="429.1" x2="584.22" y2="430.90000000000003" stroke="#9a9a9a" stroke-width="0.5"/>
<text transform="translate(589.70,434.0) rotate(90)" font-family="'Liberation Sans', sans-serif" font-size="6.4" textLength="11.80" lengthAdjust="spacingAndGlyphs" fill="#454545" fill-opacity="0.9">11/8</text>
<line x1="590.77" y1="429.1" x2="590.77" y2="430.90000000000003" stroke="#9a9a9a" stroke-width="0.5"/>
<text transform="translate(596.25,434.0) rotate(90)" font-family="'Liberation Sans', sans-serif" font-size="6.4" textLength="11.80" lengthAdjust="spacingAndGlyphs" fill="#454545" fill-opacity="0.9">13/8</text>
<line x1="597.31" y1="429.1" x2="597.31" y2="430.90000000000003" stroke="#9a9a9a" stroke-width="0.5"/>
<text transform="translate(602.79,434.0) rotate(90)" font-family="'Liberation Sans', sans-serif" font-size="6.4" textLength="11.80" lengthAdjust="spacingAndGlyphs" fill="#454545" fill-opacity="0.9">15/8</text>
<line x1="603.85" y1="429.1" x2="603.85" y2="430.90000000000003" stroke="#9a9a9a" stroke-width="0.5"/>
<text transform="translate(609.33,434.0) rotate(90)" font-family="'Liberation Sans', sans-serif" font-size="6.4" textLength="11.80" lengthAdjust="spacingAndGlyphs" fill="#454545" fill-opacity="0.9">17/8</text>
<line x1="610.40" y1="429.1" x2="610.40" y2="430.90000000000003" stroke="#9a9a9a" stroke-width="0.5"/>
<text transform="translate(615.88,434.0) rotate(90)" font-family="'Liberation Sans', sans-serif" font-size="6.4" textLength="11.80" lengthAdjust="spacingAndGlyphs" fill="#454545" fill-opacity="0.9">19/8</text>
<line x1="616.94" y1="429.1" x2="616.94" y2="430.90000000000003" stroke="#9a9a9a" stroke-width="0.5"/>
<text transform="translate(622.42,434.0) rotate(90)" font-family="'Liberation Sans', sans-serif" font-size="6.4" textLength="11.80" lengthAdjust="spacingAndGlyphs" fill="#454545" fill-opacity="0.9">21/8</text>
<line x1="623.49" y1="429.1" x2="623.49" y2="430.90000000000003" stroke="#9a9a9a" stroke-width="0.5"/>
<text transform="translate(628.97,434.0) rotate(90)" font-family="'Liberation Sans', sans-serif" font-size="6.4" textLength="11.80" lengthAdjust="spacingAndGlyphs" fill="#454545" fill-opacity="0.9">23/8</text>
<line x1="630.03" y1="429.1" x2="630.03" y2="430.90000000000003" stroke="#9a9a9a" stroke-width="0.5"/>
<text transform="translate(635.51,434.0) rotate(90)" font-family="'Liberation Sans', sans-serif" font-size="6.4" textLength="11.80" lengthAdjust="spacingAndGlyphs" fill="#454545" fill-opacity="0.9">25/8</text>
<line x1="636.57" y1="429.1" x2="636.57" y2="430.90000000000003" stroke="#9a9a9a" stroke-width="0.5"/>
<text transform="translate(642.05,434.0) rotate(90)" font-family="'Liberation Sans', sans-serif" font-size="6.4" textLength="11.80" lengthAdjust="spacingAndGlyphs" fill="#454545" fill-opacity="0.9">27/8</text>
<line x1="643.12" y1="429.1" x2="643.12" y2="430.90000000000003" stroke="#9a9a9a" stroke-width="0.5"/>
<text transform="translate(648.60,434.0) rotate(90)" font-family="'Liberation Sans', sans-serif" font-size="6.4" textLength="11.80" lengthAdjust="spacingAndGlyphs" fill="#454545" fill-opacity="0.9">29/8</text>
<line x1="649.66" y1="429.1" x2="649.66" y2="430.90000000000003" stroke="#9a9a9a" stroke-width="0.5"/>
<text transform="translate(655.14,434.0) rotate(90)" font-family="'Liberation Sans', sans-serif" font-size="6.4" textLength="11.80" lengthAdjust="spacingAndGlyphs" fill="#454545" fill-opacity="0.9">31/8</text>
<line x1="656.21" y1="429.1" x2="656.21" y2="430.90000000000003" stroke="#9a9a9a" stroke-width="0.5"/>
<text transform="translate(661.69,434.0) rotate(90)" font-family="'Liberation Sans', sans-serif" font-size="6.4" textLength="8.85" lengthAdjust="spacingAndGlyphs" fill="#454545" fill-opacity="0.9">2/9</text>
<line x1="662.75" y1="429.1" x2="662.75" y2="430.90000000000003" stroke="#9a9a9a" stroke-width="0.5"/>
<text transform="translate(668.23,434.0) rotate(90)" font-family="'Liberation Sans', sans-serif" font-size="6.4" textLength="8.85" lengthAdjust="spacingAndGlyphs" fill="#454545" fill-opacity="0.9">4/9</text>
<line x1="669.29" y1="429.1" x2="669.29" y2="430.90000000000003" stroke="#9a9a9a" stroke-width="0.5"/>
<text transform="translate(674.77,434.0) rotate(90)" font-family="'Liberation Sans', sans-serif" font-size="6.4" textLength="8.85" lengthAdjust="spacingAndGlyphs" fill="#454545" fill-opacity="0.9">6/9</text>
<line x1="675.84" y1="429.1" x2="675.84" y2="430.90000000000003" stroke="#9a9a9a" stroke-width="0.5"/>
<text transform="translate(681.32,434.0) rotate(90)" font-family="'Liberation Sans', sans-serif" font-size="6.4" textLength="8.85" lengthAdjust="spacingAndGlyphs" fill="#454545" fill-opacity="0.9">8/9</text>
<line x1="682.38" y1="429.1" x2="682.38" y2="430.90000000000003" stroke="#9a9a9a" stroke-width="0.5"/>
<text transform="translate(687.86,434.0) rotate(90)" font-family="'Liberation Sans', sans-serif" font-size="6.4" textLength="11.80" lengthAdjust="spacingAndGlyphs" fill="#454545" fill-opacity="0.9">10/9</text>
<line x1="688.93" y1="429.1" x2="688.93" y2="430.90000000000003" stroke="#9a9a9a" stroke-width="0.5"/>
<text transform="translate(694.41,434.0) rotate(90)" font-family="'Liberation Sans', sans-serif" font-size="6.4" textLength="11.80" lengthAdjust="spacingAndGlyphs" fill="#454545" fill-opacity="0.9">12/9</text>
<line x1="695.47" y1="429.1" x2="695.47" y2="430.90000000000003" stroke="#9a9a9a" stroke-width="0.5"/>
<text transform="translate(700.95,434.0) rotate(90)" font-family="'Liberation Sans', sans-serif" font-size="6.4" textLength="11.80" lengthAdjust="spacingAndGlyphs" fill="#454545" fill-opacity="0.9">14/9</text>
<line x1="702.01" y1="429.1" x2="702.01" y2="430.90000000000003" stroke="#9a9a9a" stroke-width="0.5"/>
<text transform="translate(707.50,434.0) rotate(90)" font-family="'Liberation Sans', sans-serif" font-size="6.4" textLength="11.80" lengthAdjust="spacingAndGlyphs" fill="#454545" fill-opacity="0.9">16/9</text>
<line x1="708.56" y1="429.1" x2="708.56" y2="430.90000000000003" stroke="#9a9a9a" stroke-width="0.5"/>
<text transform="translate(714.04,434.0) rotate(90)" font-family="'Liberation Sans', sans-serif" font-size="6.4" textLength="11.80" lengthAdjust="spacingAndGlyphs" fill="#454545" fill-opacity="0.9">18/9</text>
<line x1="715.10" y1="429.1" x2="715.10" y2="430.90000000000003" stroke="#9a9a9a" stroke-width="0.5"/>
<text transform="translate(720.58,434.0) rotate(90)" font-family="'Liberation Sans', sans-serif" font-size="6.4" textLength="11.80" lengthAdjust="spacingAndGlyphs" fill="#454545" fill-opacity="0.9">20/9</text>
<line x1="721.65" y1="429.1" x2="721.65" y2="430.90000000000003" stroke="#9a9a9a" stroke-width="0.5"/>
<text transform="translate(727.13,434.0) rotate(90)" font-family="'Liberation Sans', sans-serif" font-size="6.4" textLength="11.80" lengthAdjust="spacingAndGlyphs" fill="#454545" fill-opacity="0.9">22/9</text>
<line x1="728.19" y1="429.1" x2="728.19" y2="430.90000000000003" stroke="#9a9a9a" stroke-width="0.5"/>
<text transform="translate(733.67,434.0) rotate(90)" font-family="'Liberation Sans', sans-serif" font-size="6.4" textLength="11.80" lengthAdjust="spacingAndGlyphs" fill="#454545" fill-opacity="0.9">24/9</text>
<line x1="734.74" y1="429.1" x2="734.74" y2="430.90000000000003" stroke="#9a9a9a" stroke-width="0.5"/>
<text transform="translate(740.22,434.0) rotate(90)" font-family="'Liberation Sans', sans-serif" font-size="6.4" textLength="11.80" lengthAdjust="spacingAndGlyphs" fill="#454545" fill-opacity="0.9">26/9</text>
<line x1="741.28" y1="429.1" x2="741.28" y2="430.90000000000003" stroke="#9a9a9a" stroke-width="0.5"/>
<text transform="translate(746.76,434.0) rotate(90)" font-family="'Liberation Sans', sans-serif" font-size="6.4" textLength="11.80" lengthAdjust="spacingAndGlyphs" fill="#454545" fill-opacity="0.9">28/9</text>
<line x1="747.82" y1="429.1" x2="747.82" y2="430.90000000000003" stroke="#9a9a9a" stroke-width="0.5"/>
<text transform="translate(753.30,434.0) rotate(90)" font-family="'Liberation Sans', sans-serif" font-size="6.4" textLength="11.80" lengthAdjust="spacingAndGlyphs" fill="#454545" fill-opacity="0.9">30/9</text>
<line x1="754.37" y1="429.1" x2="754.37" y2="430.90000000000003" stroke="#9a9a9a" stroke-width="0.5"/>
<text transform="translate(759.85,434.0) rotate(90)" font-family="'Liberation Sans', sans-serif" font-size="6.4" textLength="11.80" lengthAdjust="spacingAndGlyphs" fill="#454545" fill-opacity="0.9">2/10</text>
<line x1="760.91" y1="429.1" x2="760.91" y2="430.90000000000003" stroke="#9a9a9a" stroke-width="0.5"/>
<text transform="translate(766.39,434.0) rotate(90)" font-family="'Liberation Sans', sans-serif" font-size="6.4" textLength="11.80" lengthAdjust="spacingAndGlyphs" fill="#454545" fill-opacity="0.9">4/10</text>
<line x1="767.46" y1="429.1" x2="767.46" y2="430.90000000000003" stroke="#9a9a9a" stroke-width="0.5"/>
<polyline points="75.42,428.40 78.69,428.57 81.96,427.69 85.23,427.34 88.51,426.99 91.78,425.94 95.05,423.65 98.32,423.12 101.59,419.25 104.87,418.73 108.14,415.39 111.41,411.34 114.68,409.76 117.95,405.19 121.23,399.38 124.50,398.33 127.77,393.06 131.04,393.41 134.32,393.06 137.59,390.07 140.86,389.71 144.13,378.64 147.40,372.83 150.68,369.14 153.95,366.68 157.22,369.32 160.49,373.19 163.76,376.70 167.04,387.08 170.31,396.40 173.58,397.28 176.85,399.21 180.12,398.51 183.40,395.69 186.67,396.92 189.94,399.56 193.21,398.51 196.48,406.59 199.76,409.76 203.03,407.82 206.30,411.17 209.57,411.69 212.84,413.80 216.12,412.92 219.39,410.11 222.66,410.29 225.93,413.45 229.20,412.57 232.48,413.10 235.75,414.15 239.02,415.91 242.29,419.96 245.56,419.25 248.84,420.66 252.11,422.07 255.38,422.77 258.65,423.65 261.92,425.23 265.20,425.06 268.47,425.76 271.74,425.76 275.01,426.11 278.29,426.64 281.56,427.17 284.83,426.81 288.10,426.81 291.37,426.99 294.65,426.64 297.92,426.64 301.19,426.64 304.46,426.64 307.73,425.76 311.01,426.11 314.28,426.46 317.55,426.64 320.82,426.64 324.09,426.99 327.37,426.99 330.64,428.22 333.91,428.05 337.18,428.05 340.45,428.40 343.73,428.75 347.00,428.75 350.27,428.92 353.54,428.92 356.81,429.10 360.09,429.10 363.36,429.10 366.63,429.10 369.90,429.10 373.17,428.92 376.45,428.92 379.72,428.92 382.99,428.92 386.26,428.92 389.53,428.92 392.81,428.57 396.08,428.75 399.35,428.57 402.62,428.57 405.89,428.57 409.17,428.57 412.44,428.57 415.71,428.57 418.98,428.57 422.26,428.22 425.53,427.17 428.80,426.99 432.07,426.81 435.34,426.81 438.62,427.17 441.89,426.64 445.16,426.99 448.43,428.05 451.70,428.22 454.98,428.22 458.25,428.22 461.52,428.22 464.79,428.75 468.06,428.92 471.34,428.92 474.61,428.92 477.88,429.10 481.15,429.10 484.42,429.10 487.70,429.10 490.97,428.92 494.24,424.18 497.51,424.18 500.78,424.18 504.06,423.83 507.33,422.42 510.60,421.54 513.87,420.48 517.14,425.06 520.42,425.06 523.69,425.06 526.96,424.88 530.23,425.94 533.50,426.64 536.78,427.69 540.05,427.87 543.32,427.87 546.59,427.17 549.86,427.34 553.14,426.64 556.41,426.29 559.68,426.11 562.95,425.94 566.23,425.94 569.50,426.46 572.77,426.64 576.04,427.52 579.31,426.99 582.59,426.81 585.86,426.99 589.13,426.64 592.40,425.06 595.67,424.53 598.95,422.77 602.22,420.66 605.49,419.61 608.76,419.08 612.03,418.90 615.31,419.96 618.58,419.08 621.85,419.43 625.12,422.42 628.39,422.24 631.67,421.36 634.94,421.72 638.21,421.01 641.48,421.19 644.75,421.54 648.03,419.96 651.30,419.96 654.57,415.56 657.84,413.45 661.11,411.17 664.39,407.12 667.66,406.24 670.93,404.84 674.20,403.43 677.47,404.66 680.75,403.96 684.02,406.24 687.29,408.53 690.56,409.23 693.83,410.99 697.11,411.17 700.38,413.45 703.65,415.91 706.92,416.79 710.20,416.79 713.47,415.56 716.74,412.22 720.01,410.81 723.28,409.41 726.56,407.82 729.83,404.31 733.10,404.31 736.37,405.54 739.64,408.70 742.92,410.46 746.19,408.70 749.46,410.11 752.73,412.57 756.00,412.75 759.28,411.17 762.55,409.58 765.82,408.18 769.09,410.46 772.36,407.12" fill="none" stroke="#38b8ea" stroke-width="1.5" stroke-linejoin="round"/>
<clipPath id="plotclip"><rect x="53.75" y="275.4" width="722.25" height="154.90"/></clipPath>
<polyline clip-path="url(#plotclip)" points="55.79,429.03 59.06,429.04 62.33,429.06 65.60,429.07 68.87,429.08 72.15,429.02 75.42,428.90 78.69,428.91 81.96,428.59 85.23,428.46 88.51,428.34 91.78,427.95 95.05,427.02 98.32,426.69 101.59,425.23 104.87,424.70 108.14,423.30 111.41,421.64 114.68,420.64 117.95,417.97 121.23,415.43 124.50,413.56 127.77,411.02 131.04,409.75 134.32,407.95 137.59,405.81 140.86,403.00 144.13,396.23 147.40,392.15 150.68,388.20 153.95,386.00 157.22,385.36 160.49,384.85 163.76,383.51 167.04,380.83 170.31,380.43 173.58,376.94 176.85,375.40 180.12,374.11 183.40,372.16 186.67,370.94 189.94,368.92 193.21,367.77 196.48,367.11 199.76,366.80 203.03,364.94 206.30,364.43 209.57,363.59 212.84,362.54 216.12,361.22 219.39,359.57 222.66,359.33 225.93,358.69 229.20,357.85 232.48,357.21 235.75,356.58 239.02,355.94 242.29,355.84 245.56,355.33 248.84,355.23 252.11,354.93 255.38,354.56 258.65,354.26 261.92,354.23 265.20,354.07 268.47,353.85 271.74,353.75 275.01,353.59 278.29,353.44 281.56,353.34 284.83,353.18 288.10,353.03 291.37,352.87 294.65,352.64 297.92,352.48 301.19,352.32 304.46,352.23 307.73,351.73 311.01,351.71 314.28,351.69 317.55,351.53 320.82,351.37 324.09,351.34 327.37,351.25 330.64,351.23 333.91,351.13 337.18,351.11 340.45,351.08 343.73,351.09 347.00,351.10 350.27,351.11 353.54,351.11 356.81,351.12 360.09,351.13 363.36,351.14 366.63,351.14 369.90,351.15 373.17,351.09 376.45,351.10 379.72,351.11 382.99,351.11 386.26,351.12 389.53,351.13 392.81,351.00 396.08,351.01 399.35,350.95 402.62,350.92 405.89,350.89 409.17,350.86 412.44,350.83 415.71,350.67 418.98,350.64 422.26,350.41 425.53,350.01 428.80,349.94 432.07,349.87 435.34,349.87 438.62,349.87 441.89,349.67 445.16,349.61 448.43,349.61 451.70,349.61 454.98,349.54 458.25,349.54 461.52,349.54 464.79,349.54 468.06,349.54 471.34,349.54 474.61,349.54 477.88,349.54 481.15,349.54 484.42,349.54 487.70,349.54 490.97,349.38 494.24,347.26 497.51,346.95 500.78,346.89 504.06,346.76 507.33,346.23 510.60,345.90 513.87,345.44 517.14,345.38 520.42,345.38 523.69,345.39 526.96,345.19 530.23,345.06 533.50,345.00 536.78,344.94 540.05,344.95 543.32,344.95 546.59,344.69 549.86,344.56 553.14,344.16 556.41,343.97 559.68,343.81 562.95,343.71 566.23,343.69 569.50,343.59 572.77,343.50 576.04,343.41 579.31,342.98 582.59,342.75 585.86,342.72 589.13,342.56 592.40,341.83 595.67,341.48 598.95,340.66 602.22,339.38 605.49,338.69 608.76,338.45 612.03,338.22 615.31,337.93 618.58,337.30 621.85,336.67 625.12,336.58 628.39,335.88 631.67,335.32 634.94,335.23 638.21,334.67 641.48,334.10 644.75,333.61 648.03,332.91 651.30,332.22 654.57,329.88 657.84,328.89 661.11,327.36 664.39,325.16 667.66,324.24 670.93,322.96 674.20,321.72 677.47,319.94 680.75,318.76 684.02,318.27 687.29,317.13 690.56,316.67 693.83,316.20 697.11,315.12 700.38,314.32 703.65,314.19 706.92,314.05 710.20,312.81 713.47,311.66 716.74,309.71 720.01,307.89 723.28,306.34 726.56,305.39 729.83,303.80 733.10,302.58 736.37,302.03 739.64,301.41 742.92,300.39 746.19,298.29 749.46,298.01 752.73,297.38 756.00,296.22 759.28,295.05 762.55,293.82 765.82,292.26 769.09,291.03 772.36,289.46" fill="none" stroke="#ee1418" stroke-width="3.1" stroke-linejoin="round" stroke-linecap="round"/>
<rect x="302.3" y="282" width="183.6" height="38" fill="#fff" stroke="#a79cc4" stroke-width="0.7"/>
<rect x="309" y="286.4" width="12.8" height="3.9" fill="#10235f"/>
<text x="323.00" y="290.90" font-family="'Liberation Sans', sans-serif" font-size="7.6" textLength="82.50" lengthAdjust="spacingAndGlyphs" fill="#333">casi confermati per giorno</text>
<line x1="310.4" y1="301.8" x2="321.8" y2="301.8" stroke="#ee1418" stroke-width="3" stroke-linecap="round"/>
<text x="323.50" y="304.30" font-family="'Liberation Sans', sans-serif" font-size="7.6" textLength="146.80" lengthAdjust="spacingAndGlyphs" fill="#333">totale casi confermati (dati aggregati cumulati)</text>
<line x1="309" y1="314.8" x2="321.8" y2="314.8" stroke="#2fb0e4" stroke-width="1.1"/>
<text x="323.00" y="317.00" font-family="'Liberation Sans', sans-serif" font-size="7.6" textLength="156.20" lengthAdjust="spacingAndGlyphs" fill="#333">7 Perc. Media Mobile (casi confermati per giorno)</text>
<rect x="750.9" y="273.5" width="25.9" height="14.3" fill="#fff" stroke="#3d5a8a" stroke-width="0.9"/>
<text x="756.20" y="283.40" font-family="'Liberation Sans', sans-serif" font-size="7.8" font-weight="bold" textLength="15.50" lengthAdjust="spacingAndGlyphs" fill="#1a1a1a">2086</text>
</g>
<g id="pie">
<rect x="807.8" y="262.9" width="193.5" height="186.6" fill="#c5e0b4"/>
<text y="274.30" font-family="'Liberation Sans', sans-serif" font-size="7.4" font-weight="bold" fill="#262626" stroke="#262626" stroke-width="0.25" stroke-linejoin="round"><tspan x="826.40" textLength="16.50" lengthAdjust="spacingAndGlyphs">Covid</tspan> <tspan x="845.70" textLength="7.10" lengthAdjust="spacingAndGlyphs">19</tspan> <tspan x="856.00" textLength="1.90" lengthAdjust="spacingAndGlyphs">-</tspan> <tspan x="859.80" textLength="42.50" lengthAdjust="spacingAndGlyphs">Distribuzione</tspan> <tspan x="904.30" textLength="10.70" lengthAdjust="spacingAndGlyphs">casi</tspan> <tspan x="917.90" textLength="34.20" lengthAdjust="spacingAndGlyphs">confermati</tspan> <tspan x="954.60" textLength="9.80" lengthAdjust="spacingAndGlyphs">per</tspan></text>
<text x="880.30" y="282.80" font-family="'Liberation Sans', sans-serif" font-size="7.4" font-weight="bold" textLength="30.80" lengthAdjust="spacingAndGlyphs" fill="#262626" stroke="#262626" stroke-width="0.25" stroke-linejoin="round">provinicia</text>
<rect x="897.8" y="289.6" width="92.4" height="93.6" fill="#fff"/>
<path d="M944.1,336.3 L944.10,290.30 A46.0,46.0 0 0 1 985.27,356.82 Z" fill="#35f1f7" stroke="#35f1f7" stroke-width="0.3"/>
<path d="M944.1,336.3 L985.27,356.82 A46.0,46.0 0 0 1 927.19,379.08 Z" fill="#ffff3b" stroke="#ffff3b" stroke-width="0.3"/>
<path d="M944.1,336.3 L927.19,379.08 A46.0,46.0 0 0 1 898.63,343.27 Z" fill="#35ee46" stroke="#35ee46" stroke-width="0.3"/>
<path d="M944.1,336.3 L898.63,343.27 A46.0,46.0 0 0 1 899.38,325.52 Z" fill="#ee1212" stroke="#ee1212" stroke-width="0.3"/>
<path d="M944.1,336.3 L899.38,325.52 A46.0,46.0 0 0 1 908.48,307.19 Z" fill="#b3a2c7" stroke="#b3a2c7" stroke-width="0.3"/>
<path d="M944.1,336.3 L908.48,307.19 A46.0,46.0 0 0 1 944.10,290.30 Z" fill="#f4a460" stroke="#f4a460" stroke-width="0.3"/>
<text x="964.40" y="321.80" font-family="'Liberation Sans', sans-serif" font-size="8.8" font-weight="bold" textLength="15.40" lengthAdjust="spacingAndGlyphs" fill="#1a1a1a" stroke="#1a1a1a" stroke-width="0.35" stroke-linejoin="round">675</text>
<text x="921.00" y="307.00" font-family="'Liberation Sans', sans-serif" font-size="8.8" font-weight="bold" textLength="15.40" lengthAdjust="spacingAndGlyphs" fill="#1a1a1a" stroke="#1a1a1a" stroke-width="0.35" stroke-linejoin="round">294</text>
<text x="906.60" y="324.40" font-family="'Liberation Sans', sans-serif" font-size="8.8" font-weight="bold" textLength="15.40" lengthAdjust="spacingAndGlyphs" fill="#1a1a1a" stroke="#1a1a1a" stroke-width="0.35" stroke-linejoin="round">149</text>
<text x="902.00" y="337.90" font-family="'Liberation Sans', sans-serif" font-size="8.8" font-weight="bold" textLength="15.40" lengthAdjust="spacingAndGlyphs" fill="#1a1a1a" stroke="#1a1a1a" stroke-width="0.35" stroke-linejoin="round">129</text>
<text x="910.30" y="360.50" font-family="'Liberation Sans', sans-serif" font-size="8.8" font-weight="bold" textLength="15.40" lengthAdjust="spacingAndGlyphs" fill="#1a1a1a" stroke="#1a1a1a" stroke-width="0.35" stroke-linejoin="round">346</text>
<text x="949.40" y="374.40" font-family="'Liberation Sans', sans-serif" font-size="8.8" font-weight="bold" textLength="15.40" lengthAdjust="spacingAndGlyphs" fill="#1a1a1a" stroke="#1a1a1a" stroke-width="0.35" stroke-linejoin="round">493</text>
<rect x="810.5" y="298.65" width="4.4" height="4.5" fill="#35f1f7"/>
<text x="817.20" y="303.20" font-family="'Liberation Sans', sans-serif" font-size="7.9" font-weight="bold" textLength="29.80" lengthAdjust="spacingAndGlyphs" fill="#262626" stroke="#262626" stroke-width="0.3" stroke-linejoin="round">COSENZA</text>
<rect x="810.5" y="322.45" width="4.4" height="4.5" fill="#ffff3b"/>
<text x="817.20" y="327.00" font-family="'Liberation Sans', sans-serif" font-size="7.9" font-weight="bold" textLength="58.00" lengthAdjust="spacingAndGlyphs" fill="#262626" stroke="#262626" stroke-width="0.3" stroke-linejoin="round">REGGIO CALABRIA</text>
<rect x="810.5" y="347.85" width="4.4" height="4.5" fill="#35ee46"/>
<text x="817.20" y="352.40" font-family="'Liberation Sans', sans-serif" font-size="7.9" font-weight="bold" textLength="38.60" lengthAdjust="spacingAndGlyphs" fill="#262626" stroke="#262626" stroke-width="0.3" stroke-linejoin="round">CATANZARO</text>
<rect x="810.5" y="372.85" width="4.4" height="4.5" fill="#ee1212"/>
<text x="817.20" y="377.40" font-family="'Liberation Sans', sans-serif" font-size="7.9" font-weight="bold" textLength="48.30" lengthAdjust="spacingAndGlyphs" fill="#262626" stroke="#262626" stroke-width="0.3" stroke-linejoin="round">VIBO VALENTIA</text>
<rect x="810.5" y="398.45" width="4.4" height="4.5" fill="#b3a2c7"/>
<text x="817.20" y="403.00" font-family="'Liberation Sans', sans-serif" font-size="7.9" font-weight="bold" textLength="31.00" lengthAdjust="spacingAndGlyphs" fill="#262626" stroke="#262626" stroke-width="0.3" stroke-linejoin="round">CROTONE</text>
<rect x="810.5" y="423.2" width="4.4" height="4.5" fill="#f4a460"/>
<text x="817.20" y="427.50" font-family="'Liberation Sans', sans-serif" font-size="7.9" font-weight="bold" textLength="122.30" lengthAdjust="spacingAndGlyphs" fill="#262626" stroke="#262626" stroke-width="0.25" stroke-linejoin="round">altro/in fase di verifica (altra Regione/</text>
<text x="817.20" y="436.60" font-family="'Liberation Sans', sans-serif" font-size="7.9" font-weight="bold" textLength="71.10" lengthAdjust="spacingAndGlyphs" fill="#262626" stroke="#262626" stroke-width="0.25" stroke-linejoin="round">Stato Estero e sbarchi)</text>
</g>
</g>
</svg>
</body>
</html>
